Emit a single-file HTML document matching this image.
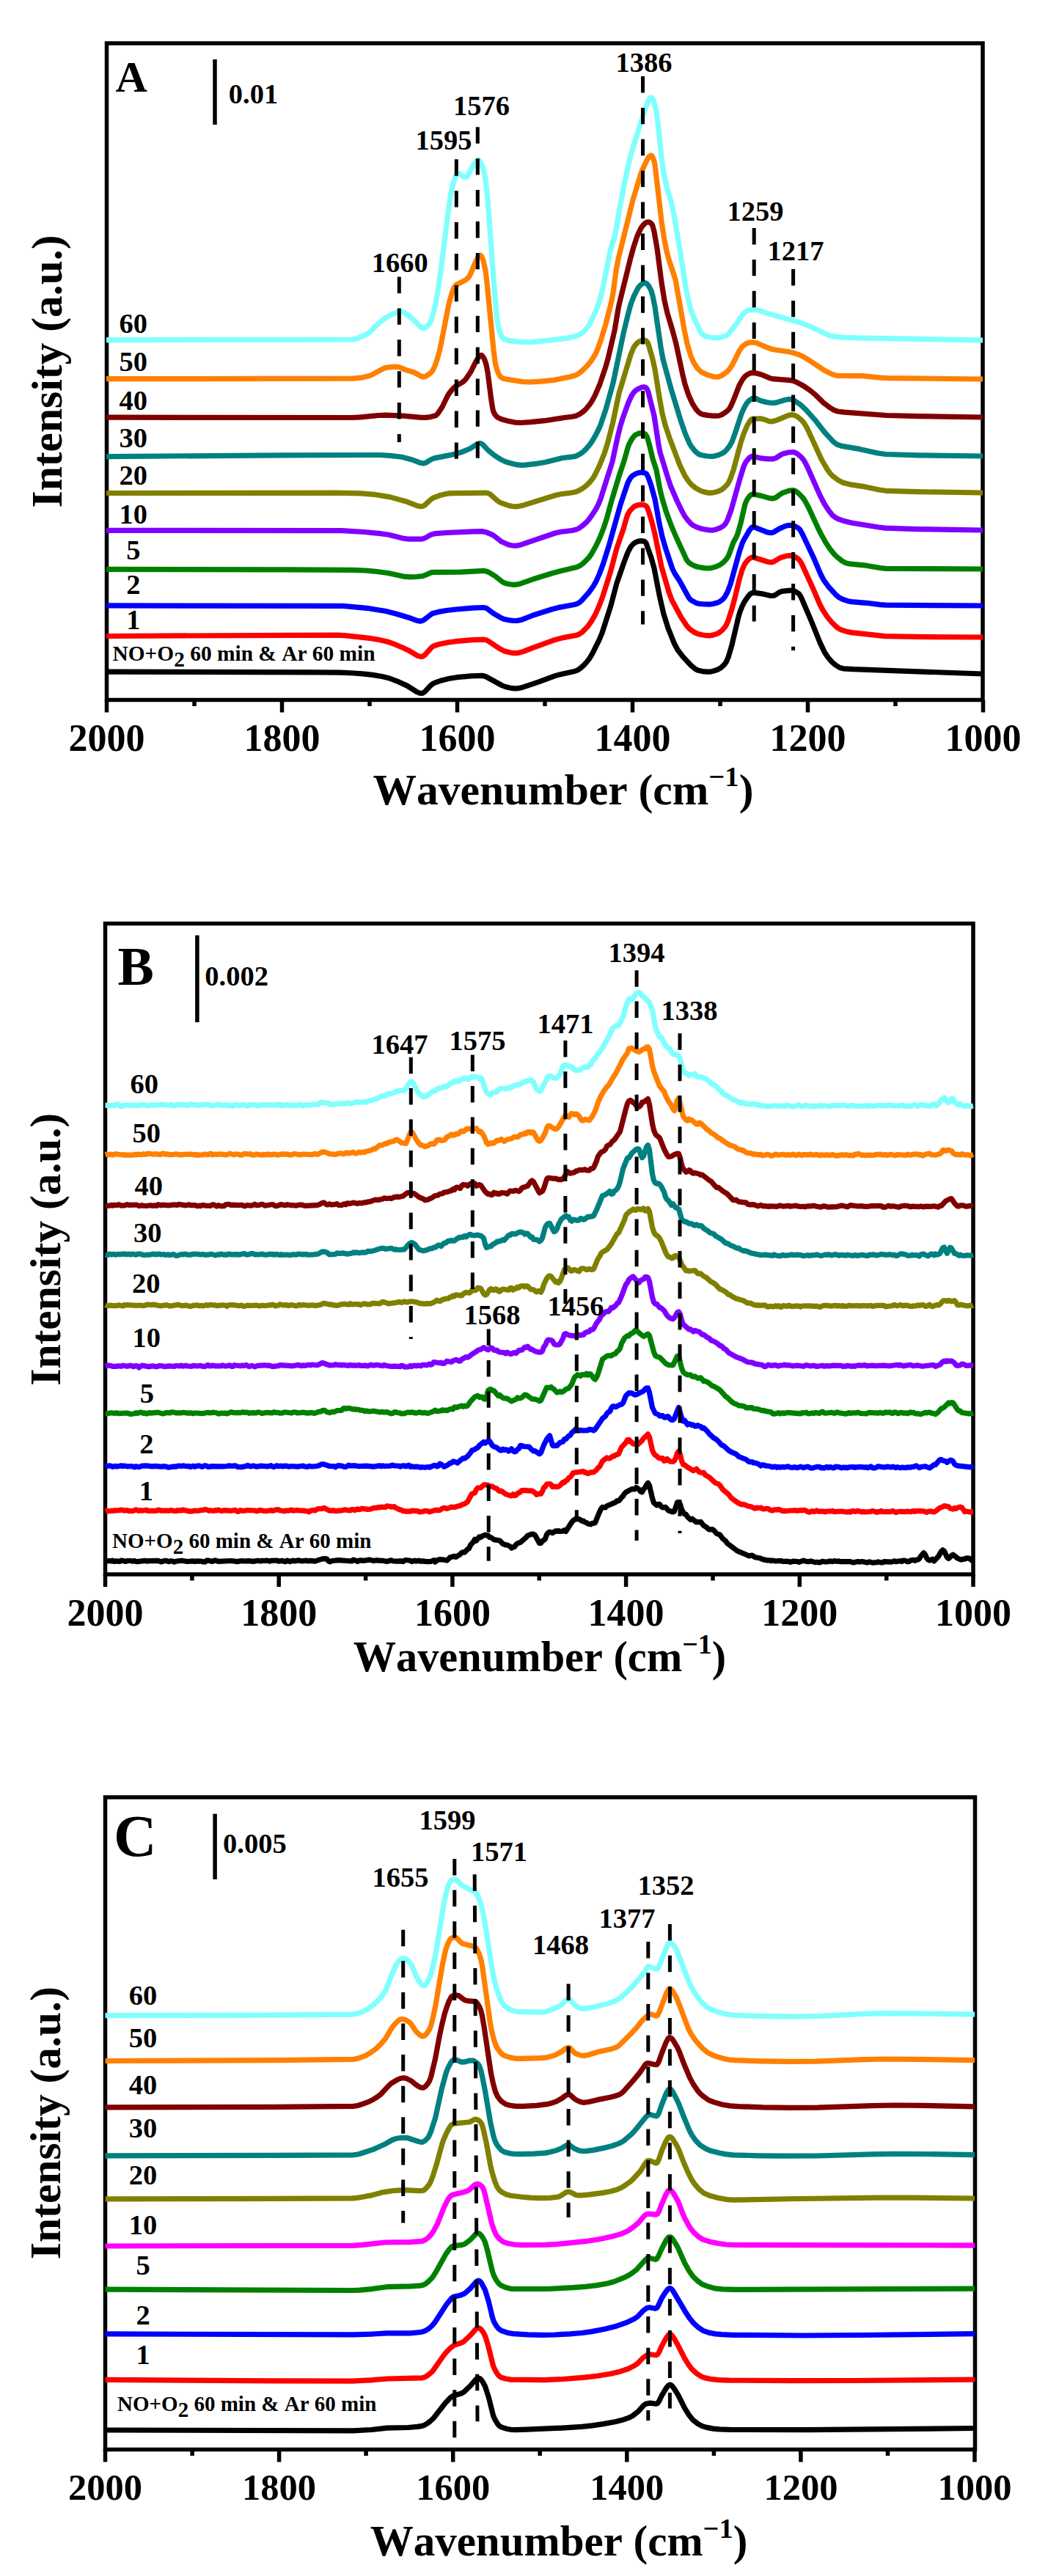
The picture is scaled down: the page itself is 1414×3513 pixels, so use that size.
<!DOCTYPE html>
<html><head><meta charset="utf-8"><style>
html,body{margin:0;padding:0;background:#fff;}
svg{display:block;}
</style></head><body>
<svg width="1414" height="3513" viewBox="0 0 1414 3513" style="font-family:'Liberation Serif',serif;font-weight:bold;font-kerning:none">
<rect width="1414" height="3513" fill="#fff"/>
<rect x="145.5" y="59" width="1194.5" height="895.5" fill="none" stroke="#000" stroke-width="5.5"/>
<line x1="145.5" y1="954.5" x2="145.5" y2="971.5" stroke="#000" stroke-width="5.5"/>
<text x="145.5" y="1024" text-anchor="middle" font-size="52">2000</text>
<line x1="265.0" y1="954.5" x2="265.0" y2="963.0" stroke="#000" stroke-width="5.5"/>
<line x1="384.5" y1="954.5" x2="384.5" y2="971.5" stroke="#000" stroke-width="5.5"/>
<text x="384.5" y="1024" text-anchor="middle" font-size="52">1800</text>
<line x1="504.0" y1="954.5" x2="504.0" y2="963.0" stroke="#000" stroke-width="5.5"/>
<line x1="623.5" y1="954.5" x2="623.5" y2="971.5" stroke="#000" stroke-width="5.5"/>
<text x="623.5" y="1024" text-anchor="middle" font-size="52">1600</text>
<line x1="743.0" y1="954.5" x2="743.0" y2="963.0" stroke="#000" stroke-width="5.5"/>
<line x1="862.5" y1="954.5" x2="862.5" y2="971.5" stroke="#000" stroke-width="5.5"/>
<text x="862.5" y="1024" text-anchor="middle" font-size="52">1400</text>
<line x1="982.0" y1="954.5" x2="982.0" y2="963.0" stroke="#000" stroke-width="5.5"/>
<line x1="1101.5" y1="954.5" x2="1101.5" y2="971.5" stroke="#000" stroke-width="5.5"/>
<text x="1101.5" y="1024" text-anchor="middle" font-size="52">1200</text>
<line x1="1221.0" y1="954.5" x2="1221.0" y2="963.0" stroke="#000" stroke-width="5.5"/>
<line x1="1340.5" y1="954.5" x2="1340.5" y2="971.5" stroke="#000" stroke-width="5.5"/>
<text x="1340.5" y="1024" text-anchor="middle" font-size="52">1000</text>
<text x="768" y="1096.5" font-size="59.5" text-anchor="middle">Wavenumber (cm<tspan dy="-24.4" font-size="38.7">&#8722;1</tspan><tspan dy="24.4">)</tspan></text>
<text transform="translate(84.4,506.5) rotate(-90)" font-size="59.5" text-anchor="middle">Intensity (a.u.)</text>
<path d="M145 916.1 428 916.8 464 917.1 483 918 497 919.1 508 920.4 522 922.8 531 925 541 928.8 555 935.1 568 943.4 571 944.8 574 945.5 576 945.3 579 943.6 587 935 590 932.5 595 930.3 603 927.7 613 925.3 623 923.7 643 921.8 657 921.4 660 921.9 663 923 684 934.5 689 936.5 696 938.2 701 938.9 706 938.8 711 937.8 734 930.1 757 921.6 764 919.7 781 916.1 786 914.6 789 913 792 910.8 796 907.2 800 902.9 804 897.6 808 890.8 817 872.7 821 863.2 833 825.7 841 795.2 851 766.5 856 753.4 860 745.8 863 742.2 865 740.6 868 739 871 738 874 737.6 879 738.4 881 740.6 888 760.6 892 775 899 811.4 905 837.7 911 856.7 919 876.7 924 886.2 931 895.4 942 907.3 948 912.2 952 914.3 958 915.6 964 916.2 968 916.2 973 915.1 979 913 983 910.6 987 907 990 903.2 993 896.4 998 879.4 1007 841 1009 834.2 1012 826.6 1015 820.8 1020 813.4 1023 810 1026 808.4 1029 808.4 1038 809.6 1050 812.3 1054 812.5 1057 811.5 1063 807.6 1066 806.4 1078 805.2 1082 805.7 1085 806.9 1089 809.5 1091 812.1 1093 816 1106 846.4 1118 876.1 1124 888.9 1129 896.5 1134 902.4 1139 906.8 1145 910.5 1150 911.8 1164 912.7 1340 919" fill="none" stroke="#000000" stroke-width="7.2" stroke-linejoin="round"/>
<path d="M145 867.5 396 866.3 460 866.2 470 866.6 504 870.3 517 872.5 528 875 537 878.1 548 882.7 557 886.9 569 894.1 574 895.6 576 895.3 579 893.5 589 882.4 592 880.7 598 878.8 609 876.4 621 874.7 644 872.7 660 872.2 662 872.5 665 873.8 682 884.9 688 888 695 889.8 700 890.6 704 890.7 709 889.9 714 888.4 726 883.6 757 872.4 768 869.6 786 866.2 789 865.3 794 861.9 801 854.8 806 847.9 811 839.4 816 828.6 821 815.8 832 781.4 841 747.6 850 721.5 854 707.2 856 701.5 859 696.4 864 691.3 868 689.2 874 688.1 878 688.5 881 689.9 883 693.2 885 698.7 889 712.2 893 728.5 902 773 912 807.3 916 818.2 929 842.3 936 852.8 939 856.3 942 859.1 947 862.4 951 864.2 957 865.8 963 866.7 968 866.8 972 866.1 978 864.1 981 862.5 985 859.3 989 854.5 991 850.8 993 845.8 998 830.3 1002 815.5 1008 790.3 1012 777 1015 770.1 1018 765.8 1021 762.6 1024 760.6 1026 760.1 1028 760.2 1047 766.3 1052 766.9 1055 766 1062 761.7 1065 760.3 1072 758.2 1077 757.6 1080 757.9 1084 759.4 1088 761.8 1091 764.9 1094 770.5 1109 803.4 1118 824.5 1122 832 1128 841.2 1134 848.5 1141 855.3 1144 857.4 1147 858.9 1154 861.2 1161 862.6 1207 867.7 1250 868.4 1340 869" fill="none" stroke="#FF0000" stroke-width="7.2" stroke-linejoin="round"/>
<path d="M145 825.9 468 826.4 500 829.3 525 833.3 539 836.7 559 842.8 568 846.2 573 847.1 575 846.8 578 845.4 589 837 592 835.9 598 834.4 609 832.5 622 831 644 829.1 659 828.5 662 829 664 829.9 673 836.6 682 841.9 687 844.2 693 845.6 700 846.5 705 846.4 709 845.7 714 844.2 727 839 753 830.7 762 828.4 782 824.7 787 823.4 790 821.7 793 819.1 803 807.8 809 799.5 813 792.4 817 783.4 822 770.3 830 745.2 846 688.2 856 658.5 859 652.8 861 650.2 863 648.3 868 645.6 871 644.7 874 644.3 879 644.9 881 645.9 882 647 884 651 888 662.5 893 680.7 899 713.8 903 732 908 749.2 917 776 920 782 927 792.8 939 814.7 941 817.2 943 818.9 949 822.2 953 823.3 961 824 967 824.2 972 823.6 978 822 981 820.7 985 817.8 988 814.6 992 807.2 996 796.7 1008 753.2 1012 741 1014 736.8 1022 722.9 1025 719.2 1027 718.7 1029 719.1 1045 725.4 1049 726.4 1052 726.6 1055 725.7 1063 720.9 1069 718.2 1073 716.8 1077 716.2 1081 716.7 1085 718.2 1089 720.5 1091 722.7 1094 728 1109 759.7 1119 783 1123 790.9 1130 800.5 1140 811.4 1144 814.7 1150 817.7 1156 819.7 1161 820.6 1182 822.3 1200 824.6 1208 825.2 1340 826" fill="none" stroke="#0000FF" stroke-width="7.2" stroke-linejoin="round"/>
<path d="M145 776.4 396 776.8 480 777.3 498 778 514 779.5 529 781.5 550 786.1 559 786.9 568 786.5 576 785.7 579 784.7 587 781.1 591 780.3 628 780.2 660 778.4 664 779.3 669 781.9 676 786.2 685 793.5 689 795.5 695 796.8 700 797.4 704 797.2 709 796.2 727 789.8 753 781.7 763 779 784 774.1 788 772.8 791 771.3 795 768.4 803 760.4 807 754.6 813 743.8 818 733 823 720.3 827 708.2 834 682.6 844 649.5 851 628.4 856 610.7 858 605.3 862 598.1 866 593.3 870 591.4 874 590.6 877 590.8 880 592.1 882 595.2 883 597.9 886 608.7 890 625.6 895 641.1 900 667.9 903 680.1 908 696.9 915 716.1 923 734.8 936 762.9 938 765.9 940 767.7 943 769.8 947 771.7 952 773.3 960 774.6 966 775 970 774.6 976 772.9 981 770.8 986 767.2 990 763.1 992 760.2 994 756.3 1000 739.7 1004 732.4 1006 727.5 1010 713.4 1016 687.4 1019 680.6 1023 675.5 1026 674.1 1029 674.3 1038 676.1 1049 679.4 1054 679.9 1058 678.5 1065 673.4 1068 671.8 1076 669.1 1081 668.5 1084 669.2 1088 671.9 1094 678 1097 682 1102 691.1 1115 719.3 1120 729.3 1126 740 1132 748.9 1137 755.2 1141 759.2 1148 764.9 1153 767.7 1160 769.2 1181 771.2 1200 774.5 1208 775.4 1340 776" fill="none" stroke="#008000" stroke-width="7.2" stroke-linejoin="round"/>
<path d="M145 723.3 466 723.7 497 725.5 519 727.7 530 729.3 550 734.2 555 734.9 560 735.1 574 735.1 577 734.7 580 733.5 588 728.9 593 727.7 609 726.5 645 724.9 657 724.6 663 725.8 671 729.1 674 731 684 738.8 693 742.7 697 743.8 701 744.3 706 743.9 711 742.7 757 727 765 725.3 780 723.5 786 722.1 790 720.1 794 717.2 799 712.8 803 708.3 809 699.9 813 693.5 816 687.7 819 680.2 835 629.6 842 596.7 846 580.5 850 567.9 857 548.6 861 540.1 865 534.1 868 531.7 871 530 875 528.3 878 527.7 880 528.2 882 530.1 884 534.9 892 567.1 898 606.8 900 616.8 911 652.7 915 664.3 923 682.7 930 697.3 934 704.4 938 709.6 942 714 945 716.4 950 718.9 955 720.7 960 721.8 967 722.9 972 723.1 976 722.2 982 719.9 986 717.5 989 714.6 992 709.1 997 695.6 1009 652.6 1014 636.4 1017 630 1022 624 1024 622.7 1027 622.1 1037 624.9 1047 625.8 1054 625.9 1058 624.6 1065 620.1 1068 618.7 1075 617 1081 616.5 1084 617.1 1088 619.4 1093 623.9 1096 627.5 1100 634.8 1118 675.4 1124 687 1130 696.3 1135 702.6 1139 705.7 1144 708.2 1151 710.6 1161 713 1198 719 1207 720.1 1251 721.6 1340 723" fill="none" stroke="#8000FF" stroke-width="7.2" stroke-linejoin="round"/>
<path d="M145 672.5 460 672.1 493 672.8 510 674.3 532 677.9 555 684.3 568 689.4 574 690.7 577 690.2 579 689 587 681.6 591 678.8 600 675.5 607 673.7 612 672.9 618 672.7 663 672.1 666 672.8 669 674.5 678 682.6 682 685.4 694 689.6 699 690.5 703 690.8 708 690.3 714 688.9 758 675.2 765 673.8 779 672 785 670.8 789 669.2 794 666.3 799 662.7 803 658.9 807 654.2 810 649.8 817 635.9 824 618.6 829 602.7 836 574.8 844 536.5 860 483.6 864 473.9 867 469.6 869 467.6 872 465.6 875 464.2 878 463.6 881 464.7 883 467.1 885 472.3 890 490 893 503.7 899 541.3 903 563.6 907 579.5 913 597.4 927 634.4 934 649.1 939 656.5 943 661.1 949 665.8 955 669.2 960 670.9 966 672.1 970 672.2 975 671.3 980 669.8 984 667.8 988 664.7 992 660.3 994 657 996 652.5 1000 641.3 1010 604 1014 591.6 1019 580 1022 575 1024 572.4 1025 571.6 1027 571 1037 570.9 1041 571.7 1049 574.6 1053 574.8 1057 573.8 1074 566.8 1077 565.9 1080 565.6 1083 566.1 1087 568.1 1093 573.1 1096 576.4 1099 581.2 1102 587 1120 626.2 1128 640.1 1132 645.7 1136 649.7 1143 654.9 1149 658 1160 660.9 1180 663.9 1199 668 1208 669.3 1252 670.7 1340 672" fill="none" stroke="#808000" stroke-width="7.2" stroke-linejoin="round"/>
<path d="M145 622.6 387 620.8 518 620.5 532 621.4 548 623.3 563 627.3 573 631.2 577 631.9 581 630.9 588 626.5 592 624.9 615 620.4 630 616.4 641 611.7 650 606 654 604.5 656 604.8 658 606 665 613.4 671 618.5 676 622.3 683 626.6 688 629.1 692 630.6 700 632.7 706 633.9 711 634.3 716 634.2 729 632.7 744 630.3 767 624.5 781 622.9 785 622.1 789 620.3 794 617.1 798 613.5 803 607.9 807 602.3 812 593.8 816 586 819 579.2 826 558.5 836 522.3 850 455 856 430.1 860 415.3 864 404.4 870 392.7 872 390.1 875 387.5 877 386.3 879 385.7 881 386.2 882 386.9 885 390.6 888 396.6 890 403.4 893 418.5 901 473.3 904 489.7 915 530.1 928 573 934 590.4 940 604.4 943 609.3 947 614.4 950 617.4 953 619.5 957 620.8 964 622 970 622.4 974 622.1 979 620.8 984 618.7 987 617 990 614.4 995 608 998 602.5 1002 591.8 1011 564.4 1015 555.4 1018 550.2 1021 546.7 1025 543.8 1028 542.9 1030 543.3 1036 546.1 1039 547 1046 548.7 1052 549.5 1055 549.5 1059 548.9 1070 545.5 1075 544.4 1079 544.6 1083 546.3 1092 552.3 1099 558.8 1111 572.3 1124 589 1136 602.2 1141 606 1147 608.1 1172 612.4 1197 618 1208 619.5 1252 620.8 1340 622" fill="none" stroke="#008080" stroke-width="7.2" stroke-linejoin="round"/>
<path d="M145 569.2 481 569.5 492 568.9 516 566.5 526 566.1 550 567.2 574 569.4 581 569.4 587 568.6 594 566.8 597 564.1 603 555 610 540.5 613 535.6 617 530.7 621 526.9 631 521 635 517.3 642 506.9 648 494.8 651 489.5 654 485.3 656 484.3 657 484.7 659 487 661 491.1 663 497.2 665 507.8 670 546.4 672 558.4 673 561.7 675 565.5 677 567.9 679 569.4 684 571.8 692 574 702 576.1 710 576.5 723 575.7 743 573.7 768 569.8 780 568.3 785 567.2 790 564.9 795 561.5 799 557.8 804 551.8 807 547.3 811 539.9 818 523.7 826 499.8 829 489.3 838 450.8 843 421.1 845 411.8 860 351.2 864 336.7 869 321.6 874 311 877 307 880 304.2 882 303 884 302.7 887 303.9 889 306 890 308.2 892 315.8 896 338.8 902 384.9 906 409.7 910 427.2 917 450.6 922 469.4 931 511.6 934 523.9 939 539.1 944 550.1 949 558 952 561.4 955 563.9 958 565.1 965 566.4 972 567.1 978 567.2 981 566.7 984 565.6 990 561.8 994 558.1 996 554.9 1000 546 1008 525.6 1013 516.7 1016 513.1 1020 510.3 1024 508.6 1027 508.4 1031 508.9 1038 510.7 1049 515.4 1053 516.6 1078 518.7 1082 519.5 1086 521.1 1096 526.5 1105 532.8 1111 537.7 1123 549.4 1130 554.7 1137 559.2 1142 561 1151 562.1 1209 566.5 1253 567.6 1340 569" fill="none" stroke="#800000" stroke-width="7.2" stroke-linejoin="round"/>
<path d="M145 516.7 482 516.2 492 515.2 503 512.8 508 510.7 524 502 530 500.8 539 500.1 544 500.7 554 504.6 565 508 575 513.5 577 513.9 580 513.4 585 510.4 588 507.7 590 505.2 593 499 596 490.3 599 479.8 601 470.9 612 414.6 616 400.4 619 392.6 620 390.8 622 388.5 633 382.9 636 380.9 639 378.1 642 372.9 646 362.8 651 351.8 653 348.8 654 348.1 655 348.1 656 348.8 657 350.4 659 355.8 662 369.1 664 385.6 673 477.1 675 493.1 676 498.3 678 505.3 680 510.2 682 513.5 685 515.7 691 517.3 713 520.6 723 521 737 520.2 755 518.4 778 513.8 785 511.7 789 509.5 794 505.4 801 498.5 806 492.4 812 482.6 815 475.7 819 464.8 826 442 834 410.2 836 399.4 840 369.6 843 353.3 863 272.5 873 239.7 876 231.2 883 216.5 885 213.6 887 212.1 888 212.1 889 212.9 890 214.4 892 220.1 893 224.6 902 301.7 906 327.8 909 342.3 912 353.8 921 381.4 933 449.7 937 468.8 942 485.6 946 494.8 951 502.2 954 505.3 957 507.7 964 511.1 974 514 979 514.1 984 512.2 991 507.3 995 502.9 999 496.7 1008 478.6 1012 472.8 1015 470.3 1019 467.9 1022 467.1 1027 466.8 1031 467.5 1046 473.9 1052 476 1058 477.2 1076 479.8 1083 481.6 1090 483.9 1095 486.3 1102 490.4 1124 505 1134 510.1 1140 512.1 1144 512.4 1176 512.6 1201 515.1 1210 515.6 1340 517" fill="none" stroke="#FF8000" stroke-width="7.2" stroke-linejoin="round"/>
<path d="M145 463.6 481 463 487 461.4 495 458.2 500 455.7 505 452.3 515 442.1 525 433.9 534 429 542 425.9 546 425 549 425.3 553 427.4 563 435.4 574 446.3 577 447.8 579 447.5 581 446.3 584 443.2 586 440.5 588 436.5 591 426.7 594 413.7 597 397 601 369.8 612 282.2 615 263.1 618 249.6 621 241.3 623 237.8 624 236.9 625 236.6 627 237.2 632 240.8 634 241.7 636 241.4 637 240.5 639 237.4 643 229.3 646 224.5 650 219.3 652 218.2 653 218.4 655 220.6 658 227.7 661 239.3 663 252.4 665 272 673 380.2 677 427.6 678 436.4 680 448 682 454.8 684 459.3 685 460.8 687 462.4 694 464.6 708 466.1 722 466.6 735 465.7 769 461.8 781 459.6 789 456.9 793 454.7 796 452.2 800 447.7 804 442.1 813 422.6 818 408.9 822 393.1 832 342.1 838 322.1 840 313.7 844 289.1 852 247 858 219.5 864 198.3 878 153.6 884 137.2 886 133.8 887 133.1 888 133 890 135.1 892 139.7 895 151.8 897 167.2 902 214.4 905 236 909 254.6 915 274.8 918 287.7 927 340 935 391.1 938 406.9 942 422.2 946 433.2 955 452.2 957 455.1 959 456.9 962 458.5 965 459.5 975 461 982 460.3 990 457.6 992 456.5 994 454.5 1006 438.9 1012 429.8 1015 426.6 1018 424.3 1020 423.3 1024 422.7 1030 422.5 1035 423.3 1046 427.1 1090 439.7 1104 445 1131 457.4 1138 459.3 1150 460.2 1170 460.8 1340 464" fill="none" stroke="#80FFFF" stroke-width="7.2" stroke-linejoin="round"/>
<text x="157.5" y="124.5" font-size="60" text-anchor="start">A</text>
<line x1="293" y1="81" x2="293" y2="170" stroke="#000" stroke-width="5.5"/>
<text x="311.8" y="141" font-size="38.5" text-anchor="start">0.01</text>
<line x1="544.3" y1="377.5" x2="544.3" y2="603" stroke="#000" stroke-width="5" stroke-dasharray="22.4 20.5"/>
<line x1="622.3" y1="217.3" x2="622.3" y2="626" stroke="#000" stroke-width="5" stroke-dasharray="22.4 20.5"/>
<line x1="651.3" y1="173.3" x2="651.3" y2="626" stroke="#000" stroke-width="5" stroke-dasharray="22.4 20.5"/>
<line x1="876.5" y1="104" x2="876.5" y2="851.5" stroke="#000" stroke-width="5" stroke-dasharray="22.4 20.5"/>
<line x1="1028.2" y1="311" x2="1028.2" y2="847.6" stroke="#000" stroke-width="5" stroke-dasharray="22.4 20.5"/>
<line x1="1081.6" y1="367" x2="1081.6" y2="887" stroke="#000" stroke-width="5" stroke-dasharray="22.4 20.5"/>
<text x="545.3" y="370.5" font-size="38.5" text-anchor="middle">1660</text>
<text x="605" y="204" font-size="38.5" text-anchor="middle">1595</text>
<text x="656.5" y="156.5" font-size="38.5" text-anchor="middle">1576</text>
<text x="878" y="97.5" font-size="38.5" text-anchor="middle">1386</text>
<text x="1030" y="301" font-size="38.5" text-anchor="middle">1259</text>
<text x="1085" y="354.5" font-size="38.5" text-anchor="middle">1217</text>
<text x="181.8" y="453.8" font-size="38.5" text-anchor="middle">60</text>
<text x="181.8" y="505.9" font-size="38.5" text-anchor="middle">50</text>
<text x="181.8" y="558.7" font-size="38.5" text-anchor="middle">40</text>
<text x="181.8" y="609.5" font-size="38.5" text-anchor="middle">30</text>
<text x="181.8" y="661" font-size="38.5" text-anchor="middle">20</text>
<text x="181.8" y="714.4" font-size="38.5" text-anchor="middle">10</text>
<text x="181.8" y="762.6" font-size="38.5" text-anchor="middle">5</text>
<text x="181.8" y="809.5" font-size="38.5" text-anchor="middle">2</text>
<text x="181.8" y="857.7" font-size="38.5" text-anchor="middle">1</text>
<text x="153.5" y="900.9" font-size="29.4" text-anchor="start">NO+O<tspan dy="8">2</tspan><tspan dy="-8"> 60 min &amp; Ar 60 min</tspan></text>
<rect x="143.5" y="1259.5" width="1183.5" height="887.5" fill="none" stroke="#000" stroke-width="5.5"/>
<line x1="143.5" y1="2147" x2="143.5" y2="2164" stroke="#000" stroke-width="5.5"/>
<text x="143.5" y="2217" text-anchor="middle" font-size="52">2000</text>
<line x1="261.9" y1="2147" x2="261.9" y2="2155.5" stroke="#000" stroke-width="5.5"/>
<line x1="380.2" y1="2147" x2="380.2" y2="2164" stroke="#000" stroke-width="5.5"/>
<text x="380.2" y="2217" text-anchor="middle" font-size="52">1800</text>
<line x1="498.6" y1="2147" x2="498.6" y2="2155.5" stroke="#000" stroke-width="5.5"/>
<line x1="616.9" y1="2147" x2="616.9" y2="2164" stroke="#000" stroke-width="5.5"/>
<text x="616.9" y="2217" text-anchor="middle" font-size="52">1600</text>
<line x1="735.2" y1="2147" x2="735.2" y2="2155.5" stroke="#000" stroke-width="5.5"/>
<line x1="853.6" y1="2147" x2="853.6" y2="2164" stroke="#000" stroke-width="5.5"/>
<text x="853.6" y="2217" text-anchor="middle" font-size="52">1400</text>
<line x1="972.0" y1="2147" x2="972.0" y2="2155.5" stroke="#000" stroke-width="5.5"/>
<line x1="1090.3" y1="2147" x2="1090.3" y2="2164" stroke="#000" stroke-width="5.5"/>
<text x="1090.3" y="2217" text-anchor="middle" font-size="52">1200</text>
<line x1="1208.7" y1="2147" x2="1208.7" y2="2155.5" stroke="#000" stroke-width="5.5"/>
<line x1="1327.0" y1="2147" x2="1327.0" y2="2164" stroke="#000" stroke-width="5.5"/>
<text x="1327.0" y="2217" text-anchor="middle" font-size="52">1000</text>
<text x="736" y="2279" font-size="58.3" text-anchor="middle">Wavenumber (cm<tspan dy="-23.9" font-size="37.9">&#8722;1</tspan><tspan dy="23.9">)</tspan></text>
<text transform="translate(82.1,1703.8) rotate(-90)" font-size="59.5" text-anchor="middle">Intensity (a.u.)</text>
<path d="M143.5 2130 145.5 2128.8 149.5 2128.5 151.5 2129 153.5 2128.1 155.5 2129.5 157.5 2128.8 163.5 2129.4 165.5 2128 171.5 2129.4 173.5 2128.5 177.5 2128.5 181.5 2129.1 183.5 2128.6 185.5 2129.5 187.5 2129.6 197.5 2128.4 201.5 2129.1 203.5 2128.6 215.5 2128.4 219.5 2129.9 225.5 2128.3 227.5 2128.6 229.5 2129.7 233.5 2128.6 237.5 2130.1 239.5 2129.3 247.5 2128.2 255.5 2129.5 263.5 2128.8 265.5 2129.5 269.5 2128.9 273.5 2129.1 277.5 2130.1 279.5 2130 281.5 2128.2 283.5 2127.9 289.5 2129.4 293.5 2127.8 297.5 2129.3 315.5 2128.5 323.5 2129.6 329.5 2128.5 331.5 2129 339.5 2128.6 345.5 2129.4 351.5 2128.3 355.5 2129 357.5 2128.3 361.5 2128.5 363.5 2128.1 367.5 2129.1 369.5 2128.4 377.5 2128 379.5 2129.1 385.5 2128.4 387.5 2129.5 389.5 2129.6 391.5 2128.1 395.5 2129.7 399.5 2128.2 401.5 2128.9 407.5 2127.9 411.5 2129 417.5 2128.1 419.5 2128.8 423.5 2128.4 429.5 2129.1 439.5 2125.9 443.5 2125.7 445.5 2125.8 447.5 2128.5 449.5 2129.8 453.5 2128.5 461.5 2127.7 479.5 2129 481.5 2127.2 483.5 2127.5 487.5 2129.4 489.5 2128.1 493.5 2127.9 495.5 2128.5 503.5 2127.1 509.5 2128.6 513.5 2127.7 515.5 2128.2 521.5 2128.3 527.5 2129.5 533.5 2127.8 535.5 2128.7 539.5 2129.2 547.5 2128.8 549.5 2129.6 551.5 2128.1 553.5 2127.5 559.5 2128.3 561.5 2129.6 565.5 2128.2 567.5 2129.1 571.5 2128.2 573.5 2129.2 577.5 2128.8 579.5 2129.5 583.5 2129.7 587.5 2129.5 591.5 2127.7 593.5 2130.1 595.5 2128 599.5 2126.7 605.5 2127.2 609.5 2128.1 613.5 2124 619.5 2122.2 621.5 2123.4 627.5 2119.7 629.5 2117.4 631.5 2116.8 633.5 2117.1 637.5 2112.8 639.5 2111.8 641.5 2107.2 645.5 2102.6 647.5 2099.2 649.5 2101.1 653.5 2095.9 655.5 2096.6 657.5 2094.8 661.5 2093.2 663.5 2093.9 665.5 2093.9 667.5 2096.4 669.5 2096.7 673.5 2099.6 681.5 2101 685.5 2105.3 689.5 2106.9 691.5 2106.9 695.5 2108.9 697.5 2111 699.5 2109.9 701.5 2109.6 703.5 2106.5 705.5 2104.9 709.5 2103.4 717.5 2096.5 719.5 2094.1 725.5 2092 727.5 2092.2 729.5 2093.5 735.5 2104.4 737.5 2104.4 739.5 2101.5 741.5 2100.5 743.5 2098.5 745.5 2092.7 747.5 2090.1 749.5 2089.1 753.5 2090.6 757.5 2087.8 759.5 2088.3 761.5 2087.6 763.5 2088.5 767.5 2088 769.5 2086.6 771.5 2088.5 779.5 2076 781.5 2073.6 785.5 2071.1 787.5 2071.7 789.5 2071.6 793.5 2074.3 795.5 2074 797.5 2076 799.5 2076.3 801.5 2077.9 805.5 2078.8 807.5 2077.3 809.5 2077.5 811.5 2076.7 817.5 2061.9 819.5 2057.8 821.5 2055.4 825.5 2056 827.5 2053.7 839.5 2048.6 841.5 2046.5 843.5 2046.8 845.5 2045.1 847.5 2042.1 849.5 2040.3 851.5 2036.9 853.5 2035 861.5 2030.7 865.5 2030.9 867.5 2028.6 871.5 2031.2 873.5 2034.1 875.5 2034.8 877.5 2030.8 879.5 2028.9 881.5 2024.9 883.5 2022.4 885.5 2025.9 889.5 2043.1 891.5 2049.3 895.5 2052.9 897.5 2051.4 899.5 2051.4 901.5 2054.5 903.5 2055.9 907.5 2055.3 911.5 2060 917.5 2062 919.5 2061.2 923.5 2048.8 925.5 2048.5 927.5 2051.5 929.5 2058.4 931.5 2062.1 933.5 2065 935.5 2065.3 937.5 2068.7 941.5 2072.5 943.5 2071.1 949.5 2075.8 951.5 2075.4 953.5 2076 955.5 2075.4 959.5 2080.5 963.5 2082.8 965.5 2084.9 967.5 2086 971.5 2085.7 973.5 2087.1 977.5 2091.6 981.5 2092.9 985.5 2098.4 989.5 2101.5 991.5 2104.7 1005.5 2115.1 1021.5 2121.9 1025.5 2121.1 1029.5 2123.8 1035.5 2124.7 1041.5 2127.1 1043.5 2127 1045.5 2127.9 1049.5 2127.8 1051.5 2128.6 1053.5 2128.1 1057.5 2129 1061.5 2128.5 1065.5 2128.6 1067.5 2129.5 1073.5 2129.1 1077.5 2130.3 1081.5 2129.2 1087.5 2129.5 1089.5 2130.3 1095.5 2128.2 1099.5 2129.4 1103.5 2129.6 1105.5 2128.9 1111.5 2130.6 1113.5 2130.3 1117.5 2130.9 1121.5 2129.3 1125.5 2130 1129.5 2129.7 1131.5 2128.9 1135.5 2129.7 1137.5 2128.6 1141.5 2129.5 1143.5 2128.9 1145.5 2129.6 1159.5 2129.7 1163.5 2130.9 1169.5 2129.5 1171.5 2130.1 1175.5 2129.5 1181.5 2130.8 1183.5 2130.8 1185.5 2129.9 1189.5 2131.1 1195.5 2130.7 1197.5 2129.9 1201.5 2131 1203.5 2130.9 1205.5 2129.7 1215.5 2130.1 1219.5 2128.8 1221.5 2129.6 1227.5 2128.7 1229.5 2129.5 1231.5 2128.1 1233.5 2128 1237.5 2129.8 1239.5 2129.5 1241.5 2128 1245.5 2127.4 1247.5 2128.4 1249.5 2127.1 1251.5 2127.1 1253.5 2125.6 1255.5 2122.3 1259.5 2117.7 1261.5 2119.9 1263.5 2124.5 1265.5 2127.1 1267.5 2128.1 1271.5 2126.2 1273.5 2128.9 1279.5 2122.6 1283.5 2115.6 1285.5 2113.8 1287.5 2115.3 1291.5 2124.1 1293.5 2125.4 1297.5 2121.4 1299.5 2120.1 1305.5 2124.9 1309.5 2126.8 1311.5 2127 1313.5 2126 1315.5 2126.2 1317.5 2124.9 1321.5 2125.1 1327 2129.3" fill="none" stroke="#000000" stroke-width="7.2" stroke-linejoin="round"/>
<path d="M143.5 2061.1 145.5 2060.4 147.5 2060.9 153.5 2060.1 155.5 2060.5 157.5 2059.7 159.5 2060 165.5 2059.1 169.5 2060.1 173.5 2059.5 175.5 2060.6 179.5 2060.7 181.5 2060.5 185.5 2058.8 189.5 2060.4 191.5 2059.7 193.5 2060.2 199.5 2059.2 201.5 2060.4 209.5 2060.4 213.5 2060.2 215.5 2059.2 217.5 2059.3 219.5 2060.2 231.5 2060.1 233.5 2059.5 237.5 2060.6 239.5 2060.6 241.5 2059.7 243.5 2060.2 245.5 2059.7 247.5 2060 249.5 2058.9 257.5 2060.9 261.5 2061.1 265.5 2060 269.5 2060.5 275.5 2059.3 277.5 2059.4 279.5 2058.4 285.5 2060.2 287.5 2059.8 291.5 2060.5 293.5 2059.7 295.5 2059.8 297.5 2059 301.5 2060.3 303.5 2060.4 305.5 2059.7 315.5 2060.3 319.5 2059.4 321.5 2059.6 323.5 2061.4 325.5 2061.2 327.5 2059.6 331.5 2060.5 337.5 2059.5 347.5 2060 349.5 2060.7 351.5 2060.6 353.5 2059.5 355.5 2059.5 359.5 2060.5 363.5 2060.7 369.5 2059.5 371.5 2060.5 375.5 2059.1 379.5 2058.7 381.5 2059.7 387.5 2060.8 389.5 2060.1 393.5 2060.2 397.5 2059 399.5 2060.2 405.5 2059.4 407.5 2060 413.5 2060.1 419.5 2061 421.5 2061.8 423.5 2060.1 427.5 2059.5 429.5 2060 433.5 2057.6 439.5 2057.5 441.5 2056.3 449.5 2060.2 455.5 2059.8 457.5 2060.7 465.5 2059.9 469.5 2058.9 477.5 2059.9 479.5 2058.6 481.5 2058.5 483.5 2059.7 487.5 2057.8 489.5 2058.6 491.5 2058.3 493.5 2057.2 501.5 2058.4 505.5 2058 509.5 2056.4 513.5 2056.4 515.5 2055.4 517.5 2055.9 519.5 2055.2 525.5 2055.5 527.5 2053.9 535.5 2055.1 537.5 2054.6 539.5 2056.2 545.5 2059.1 547.5 2059.1 549.5 2060.5 553.5 2061.1 559.5 2061.2 561.5 2060.2 569.5 2060.7 571.5 2061.8 575.5 2061.7 579.5 2060.3 583.5 2060.8 585.5 2061.9 593.5 2059.3 599.5 2059.6 603.5 2057 605.5 2056.3 609.5 2057.5 615.5 2055.1 619.5 2055.5 625.5 2053.7 627.5 2053.7 629.5 2052.1 633.5 2050.9 637.5 2048 643.5 2037.1 647.5 2035.8 649.5 2031.3 651.5 2029.2 655.5 2028.8 659.5 2025.1 661.5 2024.7 665.5 2025.4 667.5 2027.1 671.5 2027.2 673.5 2028.6 677.5 2030.1 679.5 2032.5 681.5 2033.7 683.5 2033.1 689.5 2037.7 695.5 2039.7 697.5 2039.9 699.5 2037.8 701.5 2039.7 703.5 2039 705.5 2036.8 709.5 2034.7 711.5 2032.6 717.5 2032.4 719.5 2032.9 725.5 2033.1 729.5 2035.8 731.5 2038.4 735.5 2036.8 737.5 2037.3 739.5 2034.1 741.5 2028.7 743.5 2027.5 745.5 2024 749.5 2023.5 751.5 2024.7 753.5 2027.7 755.5 2027.1 759.5 2027.8 761.5 2027.3 763.5 2025.9 767.5 2021.5 769.5 2021.9 771.5 2019.2 773.5 2018.7 775.5 2015.4 777.5 2014.3 779.5 2012 781.5 2008.5 795.5 2006.6 797.5 2008.3 799.5 2008 801.5 2009.6 803.5 2009.1 805.5 2007.7 807.5 2008 809.5 2007.6 813.5 2004.5 815.5 2001.6 817.5 2000.3 821.5 1992.6 827.5 1987.8 829.5 1989 831.5 1988.8 835.5 1985.8 837.5 1985.8 839.5 1984.1 841.5 1983.8 843.5 1982.8 847.5 1973.6 853.5 1967.2 855.5 1963.5 857.5 1963.4 863.5 1969.2 865.5 1969 869.5 1970 875.5 1964.5 877.5 1961.7 883.5 1955.9 885.5 1959.7 889.5 1977.7 891.5 1982 893.5 1984.6 895.5 1985.6 897.5 1987.7 899.5 1988.8 903.5 1988.6 905.5 1992.3 907.5 1991.8 909.5 1989.5 913.5 1993 917.5 1993.4 919.5 1992.1 921.5 1988.1 923.5 1981.7 925.5 1979.1 927.5 1983.9 929.5 1992.1 931.5 1997.2 933.5 1997.8 937.5 2000.9 945.5 2005.7 949.5 2003.3 953.5 2007.5 957.5 2008.6 959.5 2008.2 961.5 2011.4 967.5 2014.9 975.5 2022.4 979.5 2023.7 981.5 2025.4 985.5 2031.2 993.5 2038.1 997.5 2043.2 1005.5 2049 1011.5 2051.9 1013.5 2051.5 1015.5 2052 1021.5 2054.5 1023.5 2054.5 1029.5 2057.1 1031.5 2056.2 1035.5 2056.5 1037.5 2056 1039.5 2057.5 1041.5 2058 1045.5 2057.3 1047.5 2057.6 1051.5 2059.9 1053.5 2060 1055.5 2058.9 1059.5 2058.9 1061.5 2058.4 1067.5 2060.7 1069.5 2060.4 1071.5 2060.8 1077.5 2060 1085.5 2059.9 1087.5 2060.3 1091.5 2059.5 1093.5 2059.9 1097.5 2059.3 1101.5 2061.8 1103.5 2062.3 1107.5 2060.6 1109.5 2061.4 1111.5 2061.2 1113.5 2060 1115.5 2061.1 1123.5 2061.2 1125.5 2061.8 1127.5 2061 1133.5 2061 1135.5 2060.4 1137.5 2061.7 1147.5 2061 1153.5 2062 1157.5 2061.6 1159.5 2062.2 1161.5 2060.8 1163.5 2060.5 1165.5 2061.4 1169.5 2060.4 1175.5 2061.9 1177.5 2061.4 1179.5 2062 1187.5 2061.4 1189.5 2060.4 1195.5 2062.3 1197.5 2061.5 1199.5 2061.7 1201.5 2060.4 1203.5 2061.6 1205.5 2061.7 1213.5 2061.7 1217.5 2060.5 1221.5 2062.6 1223.5 2061.8 1227.5 2061.3 1235.5 2061.7 1237.5 2061 1241.5 2061.7 1245.5 2060.5 1247.5 2061.3 1249.5 2060.6 1253.5 2060.6 1259.5 2060.9 1263.5 2062.5 1265.5 2061.3 1269.5 2060.9 1273.5 2061.9 1275.5 2061 1281.5 2056.3 1285.5 2054.9 1287.5 2053.6 1293.5 2054.7 1295.5 2057 1299.5 2058.1 1301.5 2056.5 1303.5 2057.3 1305.5 2056.1 1309.5 2055 1311.5 2055.8 1315.5 2061.6 1317.5 2061 1323.5 2062.1 1327 2061.7" fill="none" stroke="#FF0000" stroke-width="7.2" stroke-linejoin="round"/>
<path d="M143.5 1999.8 149.5 1998.9 151.5 1999.2 153.5 2000.4 157.5 1999.3 159.5 2000.1 165.5 1998.7 167.5 1999.6 169.5 1999 173.5 1999.8 179.5 1999.5 183.5 2000.8 185.5 1999.6 189.5 2000.7 193.5 1999.2 199.5 1998.9 207.5 1999.9 211.5 1999.4 219.5 2000.2 223.5 1999.6 227.5 2000.2 229.5 2001.2 237.5 1999.9 239.5 2000.2 243.5 1999 247.5 1999.5 249.5 1998.8 255.5 1999.7 257.5 1999.4 259.5 2000.5 263.5 1999.2 265.5 2000.2 269.5 1999 271.5 1998.9 275.5 2000.3 279.5 1998.7 281.5 1999 283.5 2000.4 285.5 2000.5 287.5 1999.6 303.5 1999.9 309.5 1999.5 311.5 1998.9 317.5 1999.4 319.5 1998.8 321.5 1998.9 323.5 2000.4 329.5 2000.6 335.5 1999.5 337.5 1998.4 341.5 1999.8 345.5 1998.9 349.5 2000.2 355.5 1999.1 365.5 1999.8 369.5 1998.6 371.5 2000 373.5 2000.5 377.5 1998.7 379.5 1999.6 383.5 1999.1 385.5 1999.8 387.5 1999 389.5 1999.5 391.5 1999.1 393.5 2000.2 397.5 1999.5 405.5 2000.1 413.5 1999 415.5 2000 419.5 2000.3 421.5 1999.4 425.5 2000 431.5 1999.5 435.5 1998.5 437.5 1997.1 439.5 1996.8 441.5 1996.8 449.5 1999.5 455.5 1999.7 457.5 2000.8 459.5 1999.2 461.5 1998.6 465.5 1999 469.5 2000.4 471.5 2000.5 475.5 1998.1 477.5 1999 483.5 1998.7 489.5 1999.6 499.5 1999.2 509.5 2000.1 517.5 1998.7 519.5 1999.7 521.5 1998.8 523.5 1999.4 531.5 1999.2 535.5 1998 537.5 1999 543.5 1999 545.5 2000.1 547.5 1999.2 551.5 1998.8 553.5 1999.8 557.5 1998.2 559.5 2000.3 561.5 1999.5 563.5 2000.3 569.5 2000.2 573.5 2001.2 575.5 2000.7 579.5 2001.2 583.5 2000.5 585.5 2001.1 591.5 1998.6 593.5 1998.4 595.5 1999.8 597.5 1999.2 599.5 1996.1 601.5 1996.9 605.5 2000.2 611.5 1997.2 613.5 1995.3 615.5 1995.2 617.5 1993.2 619.5 1993.1 623.5 1995.1 631.5 1988.5 633.5 1989 637.5 1986.1 641.5 1981.3 643.5 1978 647.5 1976.6 649.5 1975 651.5 1974.3 653.5 1971.4 659.5 1966.5 661.5 1968.1 665.5 1965 667.5 1965.3 671.5 1971.5 673.5 1972.8 677.5 1974.2 681.5 1977.6 683.5 1978 685.5 1976.2 687.5 1977.4 689.5 1976.9 691.5 1977.3 693.5 1979 697.5 1975.8 699.5 1978.8 701.5 1979.8 703.5 1979.3 705.5 1976.5 707.5 1975.6 709.5 1971.4 711.5 1971.4 713.5 1972.5 721.5 1973.1 723.5 1975.6 727.5 1979 729.5 1978.7 735.5 1982.8 737.5 1981.3 741.5 1970.7 745.5 1962.8 749.5 1957.8 753.5 1971.2 755.5 1971.8 757.5 1971.3 759.5 1971.6 763.5 1967.3 767.5 1966.3 769.5 1962.7 771.5 1962.7 775.5 1958.2 777.5 1957.6 779.5 1953.9 781.5 1952.6 785.5 1948.4 789.5 1951.1 791.5 1950.4 793.5 1950.8 801.5 1950.6 803.5 1949.1 805.5 1950 807.5 1949.6 809.5 1950.8 811.5 1949.3 821.5 1934.4 825.5 1931.3 827.5 1927.7 829.5 1925.7 831.5 1925 833.5 1920.3 835.5 1917.9 837.5 1917.8 839.5 1918.8 845.5 1915.6 847.5 1915.3 849.5 1913.3 853.5 1903.4 857.5 1899.6 861.5 1899.8 865.5 1902.2 867.5 1901.9 877.5 1897 879.5 1894.5 881.5 1893 883.5 1892.9 885.5 1899 889.5 1919.5 893.5 1927.5 897.5 1929 899.5 1931.1 903.5 1930.6 905.5 1932.9 907.5 1933.2 909.5 1931.6 911.5 1932 913.5 1934.9 915.5 1936.5 917.5 1936.4 919.5 1934.4 925.5 1919.4 929.5 1933.8 931.5 1938.1 933.5 1937 937.5 1943 939.5 1941.7 941.5 1942.2 943.5 1943.7 945.5 1943.2 947.5 1945 949.5 1944.8 951.5 1943.6 953.5 1945 955.5 1945.3 957.5 1947.8 959.5 1947.2 963.5 1950.9 967.5 1955.8 973.5 1961.2 975.5 1962.1 979.5 1965.5 983.5 1970.2 987.5 1972.3 993.5 1977.9 997.5 1980.4 1003.5 1982.8 1007.5 1986.5 1017.5 1990.5 1021.5 1993.7 1025.5 1993.5 1027.5 1995 1029.5 1995 1033.5 1996.1 1037.5 1999 1039.5 1997.7 1041.5 1997.8 1043.5 1998.8 1049.5 1999.5 1053.5 2000.9 1055.5 2000.1 1057.5 2000.2 1059.5 2001.4 1061.5 2000.4 1063.5 2001.1 1067.5 2000.4 1069.5 2000.9 1073.5 1999.9 1075.5 2000.1 1077.5 2001.1 1081.5 2001.3 1083.5 2000.7 1087.5 2001.7 1091.5 2000.2 1095.5 2001.6 1101.5 2000 1105.5 2002.1 1107.5 2002.1 1113.5 2000.4 1117.5 2000.3 1119.5 2001.9 1121.5 2001.5 1123.5 2002.2 1127.5 2000.3 1129.5 2001.6 1131.5 2000.7 1133.5 2000.8 1135.5 2002 1137.5 2001.7 1139.5 2000.1 1143.5 2000.5 1147.5 2001.9 1149.5 2001.1 1151.5 2001.6 1153.5 2001 1155.5 2001.9 1157.5 2000.8 1163.5 2000.5 1165.5 2001.5 1167.5 2000.7 1169.5 2001 1171.5 2000.4 1179.5 2001.1 1181.5 2000.7 1183.5 2001.7 1187.5 1999.8 1189.5 2001.8 1193.5 2001.9 1197.5 1999.7 1203.5 2000.8 1207.5 2000.8 1209.5 2000.1 1215.5 2001 1217.5 2000.1 1221.5 2001.6 1223.5 2000.6 1227.5 2001.7 1229.5 2001.2 1235.5 2001.7 1237.5 2000.8 1241.5 2001.2 1243.5 2000.3 1245.5 2000.4 1249.5 1998.8 1253.5 2001.7 1255.5 2000.5 1261.5 1999.7 1267.5 2002 1273.5 1997.6 1275.5 1997.7 1281.5 1990.7 1283.5 1990.3 1285.5 1991.8 1289.5 1992.7 1291.5 1994.4 1295.5 1991.4 1297.5 1991.3 1299.5 1992.8 1301.5 1996.6 1303.5 1998.1 1305.5 1998.8 1323.5 2000.8 1327 1999" fill="none" stroke="#0000FF" stroke-width="7.2" stroke-linejoin="round"/>
<path d="M143.5 1927.8 145.5 1928 151.5 1926.7 155.5 1927.3 159.5 1926.9 161.5 1927.7 173.5 1927 177.5 1928.4 179.5 1928.3 183.5 1927.7 185.5 1926.6 187.5 1927.5 191.5 1925.9 195.5 1927.3 197.5 1926.9 199.5 1928 201.5 1927.6 203.5 1926.5 205.5 1927.2 215.5 1926.1 221.5 1927.9 223.5 1927.7 225.5 1926.7 229.5 1926.5 231.5 1927 233.5 1925.9 235.5 1925.8 239.5 1926.8 247.5 1926.8 249.5 1926.3 257.5 1927.3 259.5 1926.7 263.5 1927.7 265.5 1927 267.5 1927 275.5 1927.7 283.5 1926.3 285.5 1926.9 291.5 1926.2 295.5 1926.7 297.5 1928 299.5 1927.9 301.5 1927 305.5 1927.5 307.5 1927.1 309.5 1927.9 315.5 1925.7 319.5 1926.7 325.5 1926.4 327.5 1926.7 331.5 1925.8 333.5 1926.3 337.5 1926 339.5 1927.3 343.5 1926.6 349.5 1926.9 351.5 1925.9 353.5 1926 357.5 1927.6 363.5 1926.3 371.5 1926.8 373.5 1925.7 375.5 1926.4 379.5 1926.4 381.5 1927.2 385.5 1926.9 387.5 1925.8 397.5 1927 399.5 1926 401.5 1925.8 403.5 1926 405.5 1927 413.5 1926.1 419.5 1927.1 425.5 1926.4 427.5 1927.4 429.5 1927.2 435.5 1925 437.5 1925.2 439.5 1923.6 441.5 1923.2 443.5 1923.9 445.5 1925.6 449.5 1926.6 453.5 1925.2 455.5 1925.6 459.5 1923.6 465.5 1923.5 467.5 1921.3 469.5 1920.3 471.5 1921.3 475.5 1920.3 481.5 1922 483.5 1921.6 485.5 1922.3 487.5 1922 491.5 1923.2 495.5 1923.5 497.5 1924.7 499.5 1924 503.5 1925 509.5 1924.2 517.5 1925.8 521.5 1925.4 523.5 1926 527.5 1925.6 533.5 1927.8 535.5 1927.4 537.5 1925.9 539.5 1925.7 541.5 1926.5 545.5 1926.9 547.5 1928 551.5 1927.7 555.5 1926 559.5 1926.3 561.5 1925.9 567.5 1927.1 571.5 1925.8 575.5 1926.8 579.5 1926.4 583.5 1927.4 589.5 1925.4 593.5 1923.1 595.5 1924.7 601.5 1923.9 603.5 1922.7 605.5 1923.6 607.5 1923.1 609.5 1923.6 613.5 1921.8 615.5 1921.4 617.5 1921.9 619.5 1918.9 623.5 1919.4 625.5 1918.2 627.5 1918 629.5 1917 631.5 1918.3 633.5 1917.2 635.5 1917.9 637.5 1917 641.5 1911.4 647.5 1904.8 651.5 1903.4 653.5 1905.5 655.5 1904.8 657.5 1905 659.5 1907.7 661.5 1908.2 663.5 1904.3 665.5 1896.3 667.5 1894.8 669.5 1894.5 671.5 1896.5 673.5 1896.6 679.5 1903.6 681.5 1902.4 683.5 1904.7 685.5 1906 687.5 1906.9 691.5 1907.2 697.5 1911.1 703.5 1908.3 705.5 1906 707.5 1906.9 709.5 1906.8 711.5 1905.8 715.5 1902.1 717.5 1902.3 725.5 1907.9 729.5 1908.2 733.5 1909.4 735.5 1910.8 737.5 1909.9 745.5 1892.1 749.5 1892.5 751.5 1891.4 753.5 1893.5 755.5 1894.6 759.5 1899 761.5 1898.7 763.5 1897.5 765.5 1898.4 767.5 1898.1 771.5 1894.7 775.5 1893.1 779.5 1887.9 783.5 1878.2 787.5 1874.7 791.5 1876.6 793.5 1874.5 797.5 1875 799.5 1873.3 801.5 1875.3 803.5 1873.6 805.5 1874 809.5 1879.6 811.5 1881.2 813.5 1878.3 815.5 1873.4 821.5 1853.7 827.5 1849.3 829.5 1848.7 833.5 1849 835.5 1847.4 839.5 1845.9 841.5 1842.8 843.5 1841.6 845.5 1838.7 847.5 1832.2 851.5 1824.8 855.5 1821.5 857.5 1821.9 859.5 1819.1 863.5 1817.4 865.5 1814.8 867.5 1813.6 871.5 1817.9 877.5 1822.5 883.5 1819.1 885.5 1821.3 891.5 1843.8 893.5 1848.7 895.5 1850 899.5 1851.1 907.5 1859.3 911.5 1861.5 917.5 1862 923.5 1849.4 925.5 1849.8 929.5 1865.8 931.5 1871 933.5 1872.9 937.5 1875 941.5 1874.9 943.5 1876.8 945.5 1877.7 947.5 1876.8 951.5 1879.7 955.5 1878.9 959.5 1883.8 961.5 1883.4 965.5 1885.3 971.5 1890.3 973.5 1890.6 981.5 1895.4 989.5 1904.5 991.5 1905.6 997.5 1911.5 1001.5 1914.3 1003.5 1914.7 1007.5 1916.9 1011.5 1917.1 1015.5 1918.3 1017.5 1919.9 1025.5 1919.6 1027.5 1921.2 1033.5 1921.7 1039.5 1923.8 1041.5 1923.3 1043.5 1924.4 1051.5 1925.7 1053.5 1928 1055.5 1928.3 1061.5 1926.7 1063.5 1927.9 1065.5 1927.1 1067.5 1926.9 1069.5 1927.5 1073.5 1926.4 1091.5 1927.8 1093.5 1926.6 1095.5 1927 1099.5 1926.2 1101.5 1927.7 1103.5 1927.8 1107.5 1926.9 1109.5 1927.5 1111.5 1926.4 1117.5 1927.5 1119.5 1925.9 1121.5 1925.1 1123.5 1926.7 1125.5 1927.2 1133.5 1926.2 1137.5 1927.4 1141.5 1925.8 1143.5 1926.6 1153.5 1928.2 1157.5 1926.6 1159.5 1927.4 1163.5 1926.8 1167.5 1926.9 1169.5 1926.1 1173.5 1927.5 1181.5 1928 1183.5 1926.8 1185.5 1926.4 1197.5 1927.1 1199.5 1926.4 1203.5 1927.2 1205.5 1927.1 1207.5 1925.8 1211.5 1926.5 1213.5 1925.9 1215.5 1927.1 1217.5 1927.4 1219.5 1925.9 1221.5 1926 1223.5 1927.4 1225.5 1927.6 1227.5 1926.3 1229.5 1926.4 1231.5 1927.2 1235.5 1926.9 1237.5 1927.8 1241.5 1925.8 1243.5 1926.6 1245.5 1926.2 1247.5 1927.5 1249.5 1927.9 1251.5 1927.7 1255.5 1928.7 1261.5 1926.2 1263.5 1926.8 1265.5 1926 1267.5 1926 1269.5 1927.1 1271.5 1927 1275.5 1928.8 1279.5 1925.6 1283.5 1920.8 1285.5 1920.4 1287.5 1919 1293.5 1912.9 1295.5 1914 1297.5 1912.6 1299.5 1913 1305.5 1922.3 1307.5 1924 1309.5 1924.4 1311.5 1926.5 1321.5 1927.9 1325.5 1927.4 1327 1926.8" fill="none" stroke="#008000" stroke-width="7.2" stroke-linejoin="round"/>
<path d="M143.5 1863.1 147.5 1862.1 151.5 1862.6 153.5 1863.4 159.5 1863.3 161.5 1862.8 165.5 1863.3 167.5 1862.2 173.5 1863.3 177.5 1862.2 179.5 1862.5 181.5 1863.7 185.5 1862.5 187.5 1863 189.5 1865 193.5 1862.1 203.5 1863.9 205.5 1863.1 209.5 1862.9 213.5 1863.9 217.5 1862.5 221.5 1862.8 223.5 1863.7 231.5 1862.9 237.5 1863.5 239.5 1862.5 245.5 1862.9 247.5 1862.1 249.5 1863.2 253.5 1862.2 255.5 1863 261.5 1863.3 263.5 1862.3 269.5 1863 273.5 1862.3 275.5 1863.2 279.5 1863.6 283.5 1861.4 285.5 1862.8 287.5 1863 289.5 1862.1 293.5 1862.9 301.5 1862.8 303.5 1861.9 305.5 1862.9 309.5 1862.9 313.5 1861.8 315.5 1863.3 317.5 1863.4 319.5 1861.7 327.5 1862.8 329.5 1862.2 333.5 1862.4 335.5 1861.4 339.5 1863.7 343.5 1862.3 347.5 1864 351.5 1862.3 361.5 1861.8 365.5 1862.4 367.5 1862.2 371.5 1863.6 379.5 1862.6 381.5 1861.7 399.5 1862.8 405.5 1861.4 411.5 1862.6 413.5 1861.8 415.5 1862.5 419.5 1861.5 421.5 1861.3 423.5 1861.9 425.5 1861 431.5 1861.8 433.5 1861.5 439.5 1858.5 449.5 1862 455.5 1861.6 457.5 1860.7 461.5 1861.7 463.5 1861.1 465.5 1862.1 467.5 1861.4 475.5 1862.3 477.5 1861.4 479.5 1862.2 483.5 1861.9 485.5 1862.4 489.5 1861.5 491.5 1862.5 497.5 1862.1 501.5 1862.9 505.5 1861.3 509.5 1862.2 513.5 1861.3 521.5 1862.7 523.5 1861.4 525.5 1862.2 533.5 1863.5 537.5 1863.1 545.5 1863.7 547.5 1862.3 549.5 1862.6 551.5 1864.1 557.5 1863.8 559.5 1862.5 561.5 1863.5 563.5 1862.4 565.5 1862.3 567.5 1862.9 569.5 1862 573.5 1862.8 575.5 1861.6 577.5 1861.3 581.5 1861.8 585.5 1860.2 587.5 1861.2 589.5 1860.2 591.5 1857.5 599.5 1858.7 601.5 1858.1 603.5 1859.5 605.5 1859.3 609.5 1856.2 615.5 1857.5 617.5 1855.9 621.5 1854.4 623.5 1854.7 625.5 1856.2 627.5 1856.2 629.5 1853.9 635.5 1850.5 637.5 1851.1 639.5 1850.2 643.5 1846.8 649.5 1843.2 651.5 1841.4 655.5 1840.2 659.5 1837.7 665.5 1840.9 669.5 1838 671.5 1838.9 673.5 1841.3 677.5 1841.3 679.5 1843.4 681.5 1844 687.5 1844.7 689.5 1845.9 691.5 1844.2 695.5 1846.3 697.5 1846.4 699.5 1845 701.5 1844.6 703.5 1845.6 707.5 1841.4 711.5 1841.2 715.5 1837.2 717.5 1837.6 719.5 1836.3 723.5 1840.1 725.5 1840.2 729.5 1842.7 735.5 1844.2 737.5 1844 739.5 1842.5 741.5 1836.9 743.5 1834.5 745.5 1829.6 747.5 1827.1 751.5 1827.7 753.5 1828.8 755.5 1832.8 757.5 1833.9 761.5 1834 763.5 1832.8 767.5 1825.5 769.5 1819.4 771.5 1818.7 775.5 1820.9 783.5 1821.8 785.5 1821.2 787.5 1821.7 789.5 1820.5 791.5 1821.2 793.5 1820.4 795.5 1820.5 797.5 1817.8 801.5 1816.1 803.5 1815.9 805.5 1813.3 807.5 1813.5 809.5 1811.9 813.5 1804.2 817.5 1799.2 819.5 1794.6 825.5 1789.2 827.5 1788.5 829.5 1788.7 831.5 1786.6 833.5 1783.2 835.5 1783.6 839.5 1780.4 841.5 1777.4 843.5 1776.5 847.5 1767.5 853.5 1751.5 855.5 1749.3 857.5 1745.1 861.5 1741.7 863.5 1741 869.5 1748.2 871.5 1749 873.5 1746 877.5 1744.5 879.5 1741.6 881.5 1741.4 883.5 1742.3 885.5 1747.3 889.5 1769.1 891.5 1775.9 893.5 1778.2 895.5 1778.3 899.5 1783.2 901.5 1783.8 905.5 1787.2 909.5 1793.9 913.5 1797.5 917.5 1798.8 919.5 1797 923.5 1790 925.5 1788.9 927.5 1792.5 929.5 1800.7 931.5 1806 939.5 1813 941.5 1812.7 945.5 1816.1 947.5 1814.4 953.5 1816.4 957.5 1820 959.5 1820.1 963.5 1823.3 967.5 1825.4 969.5 1827.9 971.5 1828.4 975.5 1830.4 979.5 1833.1 981.5 1835.2 983.5 1835.4 987.5 1839.4 989.5 1840.1 993.5 1844.7 1003.5 1850.3 1013.5 1854.1 1015.5 1855.6 1019.5 1857.5 1025.5 1858.1 1029.5 1859.9 1039.5 1861.5 1041.5 1863.3 1043.5 1863.7 1047.5 1861.2 1051.5 1862.4 1057.5 1861.6 1061.5 1863.1 1063.5 1862.1 1067.5 1862 1069.5 1861.2 1071.5 1861.9 1075.5 1861.7 1081.5 1862.9 1087.5 1862.1 1095.5 1863.3 1099.5 1861.7 1105.5 1863 1109.5 1862.3 1113.5 1863.5 1121.5 1862.2 1123.5 1863.2 1127.5 1862.6 1131.5 1862.9 1135.5 1862.2 1145.5 1862.3 1147.5 1862.5 1149.5 1863.6 1151.5 1863 1153.5 1863.3 1155.5 1862.3 1161.5 1863.4 1163.5 1862.8 1165.5 1863.4 1167.5 1862.5 1171.5 1861.9 1175.5 1862.3 1179.5 1861.5 1181.5 1862.8 1189.5 1862.1 1193.5 1862.7 1205.5 1862.1 1213.5 1862.8 1223.5 1861.3 1225.5 1862.2 1227.5 1861.4 1231.5 1862.9 1241.5 1861.3 1245.5 1862.8 1251.5 1861.9 1257.5 1863.3 1271.5 1861.5 1273.5 1861.9 1275.5 1863.5 1279.5 1861.7 1281.5 1861.3 1285.5 1857.1 1287.5 1856 1289.5 1856.9 1291.5 1855.7 1293.5 1856.5 1297.5 1855.8 1301.5 1858.7 1303.5 1861.6 1305.5 1862.5 1309.5 1861.7 1311.5 1860.1 1315.5 1861.1 1317.5 1862.5 1323.5 1861.9 1327 1862.5" fill="none" stroke="#8000FF" stroke-width="7.2" stroke-linejoin="round"/>
<path d="M143.5 1779.4 145.5 1780.4 147.5 1780.6 151.5 1780.1 153.5 1780.7 159.5 1780.6 161.5 1779.9 167.5 1781 169.5 1779.5 171.5 1780.1 173.5 1779.5 185.5 1780.4 191.5 1780 195.5 1780.7 201.5 1779 207.5 1779.6 209.5 1779.1 219.5 1781 223.5 1780 225.5 1780.2 227.5 1779.7 231.5 1781.2 243.5 1779.1 245.5 1780.1 249.5 1780.7 253.5 1780.1 259.5 1781.6 263.5 1780.3 269.5 1779.9 271.5 1780.9 275.5 1780.4 277.5 1780.9 281.5 1779.6 283.5 1780.4 287.5 1779.3 289.5 1779.9 293.5 1779.8 295.5 1780.7 303.5 1779.8 307.5 1780.3 309.5 1781.5 311.5 1779.9 317.5 1779.5 325.5 1780.8 329.5 1780.1 331.5 1781.2 333.5 1781.4 337.5 1780.1 341.5 1780.5 349.5 1780.1 353.5 1781 357.5 1780.2 361.5 1780.7 367.5 1779.7 369.5 1779.9 371.5 1779.2 373.5 1779.5 375.5 1781 379.5 1780.3 381.5 1778.7 385.5 1779.8 391.5 1779.7 393.5 1780.6 397.5 1779.5 403.5 1781 405.5 1780.6 407.5 1779.4 411.5 1780.2 413.5 1779.5 421.5 1780.4 425.5 1779.7 429.5 1780.6 437.5 1779.2 441.5 1777.3 449.5 1779.1 451.5 1778.8 453.5 1779.6 459.5 1780.3 461.5 1780.2 463.5 1779.1 469.5 1778.2 475.5 1779.2 477.5 1777.7 479.5 1778.8 485.5 1778.5 489.5 1778.9 491.5 1779.8 495.5 1778 497.5 1777.9 501.5 1779 505.5 1778.6 507.5 1777.3 517.5 1777.9 521.5 1775.4 525.5 1776.2 529.5 1777.9 541.5 1776.2 543.5 1775.3 547.5 1776.4 551.5 1774.8 553.5 1775.7 555.5 1775.8 557.5 1775.1 561.5 1774.8 567.5 1775.8 573.5 1777.7 579.5 1778.2 581.5 1777.6 587.5 1777.8 593.5 1774.9 595.5 1773.1 599.5 1774.5 601.5 1773.8 603.5 1772.1 605.5 1772 607.5 1771 611.5 1770.8 613.5 1769.1 615.5 1768.8 617.5 1767 619.5 1767.9 621.5 1765.9 629.5 1766.9 631.5 1764.6 635.5 1762.3 639.5 1763.4 641.5 1762.4 643.5 1759.5 645.5 1758.7 647.5 1759.8 649.5 1759 651.5 1756.1 655.5 1757 659.5 1764.3 661.5 1766.1 663.5 1765.5 667.5 1758.8 669.5 1757.5 671.5 1759.1 673.5 1759.6 675.5 1757.8 677.5 1758.3 679.5 1760.7 681.5 1761.3 683.5 1759.2 685.5 1758 693.5 1759.3 695.5 1756.5 697.5 1756.3 699.5 1759.1 701.5 1757.4 703.5 1757.5 705.5 1755.2 707.5 1756.2 709.5 1754.3 711.5 1753.7 713.5 1753.6 715.5 1754.9 717.5 1753.7 719.5 1754 723.5 1758.2 727.5 1758.8 731.5 1761.9 733.5 1760.7 735.5 1760.5 737.5 1762.3 739.5 1758.6 741.5 1751.6 745.5 1743.5 747.5 1740.8 749.5 1739.8 751.5 1740.6 757.5 1748.4 759.5 1747.6 761.5 1749.5 763.5 1747.5 765.5 1743.1 769.5 1731.5 773.5 1728.6 775.5 1729.8 777.5 1732.6 779.5 1733.4 781.5 1731.9 783.5 1731.6 789.5 1733.9 791.5 1730.9 793.5 1729.7 797.5 1730.3 799.5 1731.6 801.5 1731.5 803.5 1730.3 805.5 1731.3 807.5 1731.6 809.5 1730.6 815.5 1716.2 817.5 1713.7 819.5 1709.4 821.5 1707.5 827.5 1704.2 833.5 1696.5 841.5 1682.5 843.5 1681.3 851.5 1663.7 853.5 1657 857.5 1653 863.5 1649 865.5 1650.4 867.5 1650.1 869.5 1648.3 873.5 1649.7 877.5 1647.9 879.5 1651.1 881.5 1651.1 883.5 1648.4 885.5 1652 889.5 1673.6 891.5 1680.2 893.5 1683.6 897.5 1686.3 899.5 1688.9 901.5 1692.6 907.5 1707.6 909.5 1711.5 911.5 1714 913.5 1714.3 915.5 1715.8 917.5 1715.8 919.5 1713.1 921.5 1712.3 923.5 1713.9 925.5 1714.4 929.5 1724.2 935.5 1733 937.5 1732.7 939.5 1733.5 947.5 1732.5 951.5 1736.9 955.5 1736.9 959.5 1740.4 963.5 1742.5 969.5 1748.1 971.5 1748.7 975.5 1751.5 981.5 1758 983.5 1758.5 989.5 1761.8 993.5 1765.5 995.5 1765.8 997.5 1767.5 1003.5 1770.8 1013.5 1773.6 1019.5 1777.1 1023.5 1777.2 1027.5 1779.2 1031.5 1780.3 1033.5 1779.6 1035.5 1780.4 1041.5 1779.8 1043.5 1780.1 1045.5 1781.7 1047.5 1782.1 1049.5 1781.4 1055.5 1781.8 1057.5 1780.7 1059.5 1781.6 1061.5 1780.7 1063.5 1782.1 1065.5 1782.4 1067.5 1780.7 1073.5 1781.4 1075.5 1780.1 1079.5 1781.6 1087.5 1780.8 1089.5 1781.2 1091.5 1782.3 1093.5 1781 1103.5 1780.9 1109.5 1781.4 1113.5 1781.1 1117.5 1782.4 1119.5 1782.2 1121.5 1780.7 1125.5 1780.2 1133.5 1781.1 1139.5 1780.2 1141.5 1781.1 1143.5 1780.6 1147.5 1781.2 1149.5 1780.5 1151.5 1781.5 1155.5 1781.1 1157.5 1780.2 1161.5 1780.9 1169.5 1780.5 1173.5 1781.2 1175.5 1780.5 1183.5 1780.9 1187.5 1780.3 1189.5 1781.6 1195.5 1780.3 1205.5 1780.4 1207.5 1782 1217.5 1780.5 1219.5 1779.4 1223.5 1781 1227.5 1779.5 1231.5 1780.9 1233.5 1780.1 1235.5 1780.4 1237.5 1780 1239.5 1781.2 1243.5 1781.6 1245.5 1780.8 1249.5 1780.8 1251.5 1779.9 1253.5 1780.5 1257.5 1779.5 1259.5 1779.9 1261.5 1781.5 1263.5 1781.4 1267.5 1779.2 1269.5 1780.9 1271.5 1781.7 1277.5 1779.4 1279.5 1780 1281.5 1778.9 1285.5 1774.4 1287.5 1773.5 1291.5 1774.5 1293.5 1773.4 1297.5 1774.9 1301.5 1773.7 1303.5 1776 1305.5 1779.6 1307.5 1779.9 1309.5 1779.1 1319.5 1781 1323.5 1780.1 1325.5 1780.7 1327 1780.1" fill="none" stroke="#808000" stroke-width="7.2" stroke-linejoin="round"/>
<path d="M143.5 1711.5 145.5 1711.9 149.5 1710.1 151.5 1711 155.5 1710.4 157.5 1711.1 161.5 1710.3 163.5 1710.8 167.5 1709.9 169.5 1710.5 171.5 1710.1 173.5 1710.7 175.5 1710.2 177.5 1710.9 181.5 1710.1 185.5 1711.2 187.5 1710 191.5 1710.1 195.5 1711.5 199.5 1711.5 201.5 1711 203.5 1711.3 209.5 1709.9 211.5 1710.9 217.5 1710.2 219.5 1711 223.5 1710.5 225.5 1711.4 229.5 1710.9 231.5 1711.7 235.5 1710.6 237.5 1710.9 239.5 1712.2 241.5 1712.4 247.5 1710.5 249.5 1710.9 253.5 1710.1 255.5 1711.1 259.5 1711.1 265.5 1710 273.5 1710.9 277.5 1710.5 279.5 1711.3 285.5 1710.9 287.5 1710.3 289.5 1710.5 293.5 1712 297.5 1710.7 299.5 1711.1 301.5 1710 305.5 1711.3 307.5 1710.9 309.5 1711.3 311.5 1710 315.5 1710.9 323.5 1710.6 325.5 1711.1 333.5 1709.5 335.5 1710.9 337.5 1711.1 343.5 1709.5 345.5 1709.7 347.5 1710.9 355.5 1710.6 357.5 1710 359.5 1710.9 363.5 1711.2 367.5 1710.2 369.5 1710.6 371.5 1710.2 373.5 1711.1 377.5 1710.4 381.5 1711.4 383.5 1710.6 385.5 1711.4 391.5 1711 395.5 1711.7 399.5 1710.6 403.5 1711.2 407.5 1710 411.5 1710.8 417.5 1710.4 419.5 1711.2 427.5 1710.8 433.5 1710.1 439.5 1706.9 443.5 1707.2 445.5 1708 449.5 1711 457.5 1710.3 459.5 1708.8 463.5 1709.5 467.5 1708.9 473.5 1710.1 479.5 1709.2 481.5 1707.9 483.5 1708.6 485.5 1707.8 489.5 1708.8 493.5 1707.9 497.5 1708.1 499.5 1707.7 501.5 1706.3 505.5 1706.4 509.5 1705.7 519.5 1702.4 523.5 1702.4 525.5 1703.4 533.5 1702.2 537.5 1704.1 539.5 1703.9 543.5 1704.5 551.5 1703.8 557.5 1696.6 559.5 1695.1 561.5 1694.5 565.5 1696.7 571.5 1704.2 577.5 1705.9 579.5 1705.1 581.5 1705 585.5 1703.1 589.5 1702.4 591.5 1701.1 593.5 1701.2 597.5 1698.1 599.5 1698.4 601.5 1699.5 605.5 1695.3 607.5 1695.2 611.5 1692.1 613.5 1692.5 615.5 1691.3 617.5 1692.4 619.5 1692 625.5 1687.7 627.5 1687.8 629.5 1687 631.5 1687.3 633.5 1685.5 635.5 1686.8 639.5 1683.8 641.5 1683.3 643.5 1684.6 647.5 1684.8 651.5 1684.1 653.5 1685 655.5 1685.1 659.5 1688.5 661.5 1696.7 663.5 1701.5 667.5 1699.7 669.5 1699.7 671.5 1697.3 675.5 1695.2 677.5 1693.2 679.5 1693.4 681.5 1692.3 683.5 1692.1 685.5 1690.6 687.5 1691.5 693.5 1684.6 695.5 1684.5 697.5 1682.7 703.5 1682.8 705.5 1681.4 709.5 1680 713.5 1680.9 715.5 1683.2 717.5 1682 719.5 1682.4 723.5 1687.2 725.5 1686.9 727.5 1690.3 731.5 1690.5 733.5 1691.3 735.5 1693.1 737.5 1691.8 739.5 1688.2 743.5 1673.6 745.5 1670.3 747.5 1668.5 749.5 1668.3 755.5 1679.7 757.5 1678.9 759.5 1675.8 761.5 1669.9 765.5 1662.5 771.5 1657.8 773.5 1659.6 775.5 1659.3 777.5 1664 779.5 1665.4 781.5 1663 787.5 1664.4 789.5 1664 791.5 1661.7 793.5 1661.9 795.5 1663.3 797.5 1662.6 801.5 1659.3 803.5 1659.7 805.5 1658.8 807.5 1659 809.5 1657.8 813.5 1649.8 821.5 1630.5 823.5 1630.1 827.5 1627.8 831.5 1624.5 833.5 1628.4 835.5 1628 837.5 1624.2 839.5 1623.3 841.5 1621.3 843.5 1617.8 845.5 1611.3 849.5 1594.2 855.5 1579.2 857.5 1579 861.5 1572.6 867.5 1567.3 869.5 1566.6 871.5 1567.3 873.5 1574.1 875.5 1578.8 877.5 1576.7 881.5 1564 883.5 1561.7 885.5 1568 889.5 1600.8 891.5 1609.7 893.5 1613.3 895.5 1614.3 897.5 1613.9 899.5 1615.1 901.5 1617.7 905.5 1625.6 907.5 1632.5 909.5 1636 911.5 1637.3 915.5 1643.5 917.5 1641.7 921.5 1647.2 923.5 1647.2 925.5 1648.8 929.5 1663 933.5 1666.3 935.5 1666 939.5 1668.8 941.5 1668.5 943.5 1669 945.5 1670.6 947.5 1671.2 949.5 1669.9 953.5 1672 955.5 1671.3 957.5 1672.6 959.5 1675.2 965.5 1678.8 967.5 1680.8 973.5 1682.9 975.5 1685.3 983.5 1689.9 989.5 1695.4 991.5 1695.4 997.5 1699 999.5 1699.4 1003.5 1701.6 1005.5 1702.3 1007.5 1702.2 1009.5 1703.9 1013.5 1705.9 1015.5 1705.7 1019.5 1706.7 1023.5 1708.8 1037.5 1711.6 1043.5 1711.2 1053.5 1712.3 1055.5 1710.9 1057.5 1712 1063.5 1712.9 1067.5 1711.3 1069.5 1712.1 1075.5 1711.8 1079.5 1710.9 1081.5 1711.6 1087.5 1711.1 1091.5 1711.5 1095.5 1712.7 1101.5 1711.7 1103.5 1712.4 1105.5 1711.9 1111.5 1711.7 1113.5 1710.9 1119.5 1712.6 1125.5 1710.9 1127.5 1711.4 1129.5 1710.7 1133.5 1711.9 1139.5 1710.6 1143.5 1712.1 1147.5 1711.4 1153.5 1712.1 1155.5 1711.2 1161.5 1712.3 1163.5 1712.4 1165.5 1711.6 1169.5 1712.4 1175.5 1711.2 1177.5 1712 1179.5 1711.9 1181.5 1712.6 1183.5 1712.5 1185.5 1711 1189.5 1711.3 1191.5 1710.8 1195.5 1712.1 1201.5 1710.4 1209.5 1711.3 1213.5 1710.6 1217.5 1711.7 1219.5 1711.3 1221.5 1712.6 1223.5 1712.4 1227.5 1710 1229.5 1709.9 1235.5 1711 1237.5 1712.3 1241.5 1712.1 1243.5 1711.2 1245.5 1711.9 1249.5 1711.5 1253.5 1713.2 1255.5 1710.7 1259.5 1710 1261.5 1711.4 1265.5 1712.9 1269.5 1710 1271.5 1710.3 1273.5 1711.8 1275.5 1709.9 1277.5 1711.2 1279.5 1710.5 1281.5 1709.5 1285.5 1701.6 1287.5 1701 1289.5 1706.1 1291.5 1709.2 1295.5 1701.2 1297.5 1702.4 1301.5 1709.5 1303.5 1709.6 1307.5 1712.3 1309.5 1711.2 1311.5 1712.2 1315.5 1712.4 1319.5 1711.7 1323.5 1712.2 1327 1711.3" fill="none" stroke="#008080" stroke-width="7.2" stroke-linejoin="round"/>
<path d="M143.5 1644.7 149.5 1644.2 151.5 1643.3 153.5 1644.2 155.5 1643.2 159.5 1643.7 161.5 1642.6 165.5 1644.2 169.5 1644 173.5 1642.7 175.5 1643.3 185.5 1643.1 187.5 1643.6 189.5 1644.7 193.5 1643.7 195.5 1644.3 199.5 1644.5 205.5 1643.7 207.5 1644.4 211.5 1643.9 213.5 1644.4 215.5 1642.7 219.5 1643.8 221.5 1643.2 229.5 1643.9 237.5 1642.9 241.5 1643.5 243.5 1642.4 253.5 1643.9 257.5 1642.7 259.5 1643.6 265.5 1643.5 269.5 1644.8 271.5 1644.1 273.5 1644.7 275.5 1643.5 277.5 1643.5 279.5 1644.2 287.5 1644.3 289.5 1642.9 291.5 1642.9 295.5 1645 297.5 1643.7 301.5 1644.8 305.5 1644.7 307.5 1642.9 311.5 1642.3 315.5 1643.5 317.5 1643.2 325.5 1643.7 329.5 1643.2 333.5 1644.8 337.5 1643.5 341.5 1644.2 343.5 1643.9 347.5 1642.2 349.5 1643.6 351.5 1643.7 357.5 1642.3 361.5 1644.2 371.5 1642.5 375.5 1644.6 377.5 1644.7 383.5 1642.5 387.5 1643.6 389.5 1643.6 391.5 1642.7 397.5 1643.8 399.5 1643.5 403.5 1644.2 407.5 1643.1 411.5 1643 415.5 1644.3 431.5 1643.7 435.5 1642.7 439.5 1640.4 441.5 1639.9 445.5 1642.8 447.5 1642.8 449.5 1641.9 451.5 1643 455.5 1642.7 459.5 1641.6 461.5 1643.5 465.5 1643.6 469.5 1641.9 471.5 1642.8 473.5 1640.9 477.5 1641.4 481.5 1640.1 487.5 1641.5 489.5 1640.5 493.5 1640.8 497.5 1639.7 499.5 1639.9 501.5 1638.9 503.5 1639 511.5 1636.2 515.5 1636.4 521.5 1635.2 523.5 1633.9 527.5 1634.5 531.5 1634 533.5 1634.6 537.5 1632.5 539.5 1632.6 541.5 1631.9 543.5 1632.6 549.5 1631.2 555.5 1626.7 563.5 1627.4 565.5 1628.2 571.5 1632.6 577.5 1635.1 579.5 1636.8 583.5 1635.9 589.5 1633.2 591.5 1631.5 593.5 1630.7 597.5 1629.9 599.5 1628.3 603.5 1627.8 605.5 1626 609.5 1625.7 613.5 1624.2 615.5 1624 617.5 1621.7 619.5 1622.6 621.5 1619.7 623.5 1619 627.5 1620.6 629.5 1617.1 631.5 1615.4 633.5 1616 635.5 1615.8 637.5 1617.3 641.5 1614.2 643.5 1615.3 645.5 1615.1 647.5 1614 649.5 1617.4 653.5 1615.6 655.5 1616.3 661.5 1625 665.5 1628.5 667.5 1628.2 669.5 1629.7 671.5 1629.4 673.5 1626.2 675.5 1627.7 677.5 1627 679.5 1628.5 681.5 1628.2 683.5 1626.5 689.5 1627.2 691.5 1628.2 695.5 1624 699.5 1624.5 703.5 1623.3 707.5 1624.7 709.5 1623.3 711.5 1620.3 713.5 1619.1 715.5 1619 717.5 1617.8 719.5 1617.5 723.5 1611.4 725.5 1610 727.5 1611.8 735.5 1626.7 739.5 1624.6 741.5 1620.6 745.5 1608 747.5 1606.3 755.5 1607.4 757.5 1607 761.5 1608.8 763.5 1608.1 765.5 1608.8 767.5 1607.5 769.5 1605 773.5 1597.5 777.5 1600.2 783.5 1598.7 785.5 1596.8 787.5 1596.9 789.5 1595.5 791.5 1595.3 793.5 1595.9 797.5 1594.7 799.5 1596 803.5 1596.2 805.5 1593.8 807.5 1593.7 809.5 1592.3 813.5 1583.3 815.5 1576.8 819.5 1571.4 823.5 1569.5 825.5 1567.5 827.5 1563.2 829.5 1561.7 831.5 1561.1 835.5 1555.9 837.5 1554.6 845.5 1543.2 853.5 1511.9 855.5 1505.1 857.5 1501.4 859.5 1500.4 861.5 1501.7 863.5 1503.9 865.5 1504.6 867.5 1508.1 871.5 1509.5 873.5 1507.6 875.5 1503.1 877.5 1503.2 883.5 1498.6 885.5 1506.4 889.5 1532.4 891.5 1541.4 893.5 1546.2 895.5 1548.7 899.5 1551.8 905.5 1567.1 909.5 1574.9 911.5 1577.6 915.5 1577 919.5 1574.4 923.5 1573.1 925.5 1573.4 927.5 1578.9 929.5 1588.5 931.5 1593.7 935.5 1598.3 937.5 1597.7 939.5 1595.7 941.5 1596.5 943.5 1599.3 945.5 1600.2 947.5 1599.4 953.5 1601.1 955.5 1602.4 957.5 1602 967.5 1610 969.5 1610.8 975.5 1618 977.5 1619.6 979.5 1619.3 985.5 1624.2 991.5 1628.1 999.5 1636.5 1001.5 1636.8 1003.5 1636.2 1007.5 1638.9 1017.5 1640.1 1019.5 1642.3 1021.5 1642.8 1027.5 1642.6 1033.5 1644.8 1037.5 1643.4 1039.5 1644.5 1041.5 1644.9 1043.5 1644.6 1047.5 1645.6 1049.5 1644.8 1059.5 1645.4 1063.5 1644 1067.5 1645.1 1075.5 1644.3 1077.5 1645.3 1085.5 1644.1 1087.5 1644.9 1091.5 1645.5 1095.5 1645.3 1097.5 1645.9 1099.5 1645.1 1107.5 1644.7 1109.5 1644.1 1113.5 1645.3 1119.5 1646.2 1123.5 1644.7 1129.5 1646.2 1141.5 1645.6 1147.5 1644.1 1155.5 1645.8 1159.5 1643.6 1169.5 1645 1173.5 1644.7 1179.5 1645.3 1185.5 1645.1 1187.5 1644.5 1197.5 1644.7 1199.5 1644.3 1201.5 1644.5 1203.5 1646 1205.5 1646.6 1207.5 1646.1 1211.5 1644.1 1213.5 1645.2 1217.5 1644.8 1225.5 1646.3 1229.5 1644.7 1233.5 1644.2 1237.5 1644.5 1241.5 1645.9 1243.5 1645.1 1253.5 1645.6 1255.5 1644.9 1259.5 1645.9 1261.5 1645.1 1269.5 1645.4 1273.5 1644.7 1279.5 1646.2 1281.5 1644.3 1283.5 1644.5 1289.5 1637.9 1295.5 1634.9 1297.5 1634.7 1301.5 1640.9 1305.5 1644.9 1307.5 1645.1 1309.5 1643.8 1311.5 1643.8 1313.5 1643.9 1317.5 1645.3 1323.5 1644.4 1327 1645.7" fill="none" stroke="#800000" stroke-width="7.2" stroke-linejoin="round"/>
<path d="M143.5 1574.6 145.5 1574 147.5 1574.8 151.5 1574.1 153.5 1575.1 157.5 1573.7 167.5 1575 169.5 1574.6 171.5 1575.4 173.5 1575 175.5 1575.4 177.5 1575 181.5 1575.2 183.5 1574.4 185.5 1574.8 187.5 1574.1 193.5 1574.6 195.5 1573.6 197.5 1574.2 199.5 1574.1 201.5 1573.3 203.5 1573.2 209.5 1574.2 211.5 1573.7 217.5 1574.4 219.5 1574.3 221.5 1573 223.5 1573 225.5 1574.3 227.5 1573.9 231.5 1574.6 237.5 1574.4 239.5 1573.8 245.5 1574.9 255.5 1574 261.5 1574.2 265.5 1574.9 267.5 1574.5 269.5 1575.5 271.5 1574.8 275.5 1575 279.5 1574 283.5 1574.7 287.5 1573.1 289.5 1574.8 293.5 1574 295.5 1574.4 301.5 1573.9 307.5 1574.9 309.5 1574.7 313.5 1573 317.5 1574.5 319.5 1574.6 321.5 1573.8 325.5 1574.3 327.5 1575.2 329.5 1575.2 333.5 1573.2 337.5 1574 341.5 1573.6 343.5 1574.9 345.5 1575.2 349.5 1574 357.5 1575.1 359.5 1574.4 363.5 1574.8 365.5 1573.9 369.5 1574.9 373.5 1574 379.5 1575.1 385.5 1573.7 387.5 1574.1 391.5 1573.8 395.5 1575.2 401.5 1573.5 409.5 1574.9 413.5 1574 425.5 1574.7 429.5 1573.3 431.5 1574.2 433.5 1574.2 439.5 1570.9 443.5 1571.3 449.5 1573.6 457.5 1574.3 461.5 1573 465.5 1572.8 467.5 1573.7 469.5 1573.5 471.5 1572.1 473.5 1572 475.5 1573 481.5 1571.2 483.5 1572.6 485.5 1573 489.5 1571.2 491.5 1572 495.5 1570.9 497.5 1571.4 499.5 1570 501.5 1569.9 503.5 1569 505.5 1569 509.5 1566.6 511.5 1567 517.5 1561.9 521.5 1561.6 525.5 1559.4 527.5 1559.7 529.5 1558.1 537.5 1556.1 539.5 1554.5 541.5 1554.1 547.5 1558.5 553.5 1559.5 559.5 1544.7 561.5 1543.7 563.5 1546.4 567.5 1554.1 571.5 1559.5 573.5 1561.5 575.5 1561.8 579.5 1563.7 583.5 1562.5 587.5 1559.8 589.5 1559.7 591.5 1560.4 593.5 1558.5 595.5 1554.9 599.5 1554.2 601.5 1555.3 605.5 1555 607.5 1553.3 609.5 1550.3 611.5 1549.9 615.5 1547 617.5 1548.3 619.5 1547.9 621.5 1546.3 623.5 1546.9 625.5 1545.9 627.5 1543.5 629.5 1542.5 631.5 1543.1 633.5 1542.2 635.5 1539.8 637.5 1539.1 641.5 1539.9 643.5 1538.8 645.5 1539.5 649.5 1538.7 653.5 1543.9 655.5 1543 659.5 1548.5 663.5 1558.5 665.5 1560.6 669.5 1558.5 671.5 1559.4 673.5 1558.8 677.5 1555.2 679.5 1555.7 683.5 1553.5 687.5 1556.6 691.5 1554 697.5 1552.8 701.5 1550.2 705.5 1550.8 707.5 1549.7 709.5 1547.4 713.5 1546.9 715.5 1545.3 717.5 1546 719.5 1543.6 721.5 1543.5 723.5 1545 725.5 1543.7 727.5 1544.3 733.5 1555.2 735.5 1556.3 737.5 1555.2 739.5 1552.3 743.5 1544.5 745.5 1538.7 747.5 1535.3 749.5 1535.3 753.5 1538.2 757.5 1539.8 759.5 1539.2 761.5 1536.9 769.5 1523.1 771.5 1520.7 773.5 1522.6 775.5 1523.6 777.5 1520.2 779.5 1518.5 783.5 1520.1 785.5 1518.9 787.5 1519.9 789.5 1522 791.5 1525.8 793.5 1527.9 795.5 1528.2 797.5 1526.3 803.5 1527.8 807.5 1522.7 811.5 1515.1 815.5 1503.3 819.5 1494.3 823.5 1487.6 827.5 1482.1 829.5 1480.5 837.5 1466.7 839.5 1464.1 849.5 1444.3 855.5 1436 857.5 1430 861.5 1429.3 867.5 1433.2 871.5 1434.5 877.5 1430.5 879.5 1430.1 881.5 1428.1 883.5 1427.7 885.5 1430.7 889.5 1452.9 891.5 1461.1 899.5 1481.4 905.5 1488.5 907.5 1494.1 911.5 1501.8 915.5 1507.4 917.5 1511.9 919.5 1514.7 923.5 1500.4 925.5 1497.5 931.5 1522.1 935.5 1527.4 937.5 1528.4 939.5 1526.1 941.5 1527.6 943.5 1527.7 949.5 1533 951.5 1533.2 953.5 1531.1 955.5 1531.9 963.5 1539.8 967.5 1542.6 969.5 1544.8 971.5 1545.6 975.5 1548.4 979.5 1552 981.5 1552.3 989.5 1558.3 995.5 1561.8 1001.5 1563.6 1005.5 1566.8 1009.5 1567.8 1011.5 1568.9 1013.5 1568.5 1015.5 1570.5 1019.5 1572.4 1023.5 1572.7 1027.5 1574.3 1029.5 1573.8 1033.5 1574.9 1037.5 1574.4 1039.5 1575.9 1045.5 1574.4 1047.5 1574.5 1051.5 1576.1 1053.5 1575.9 1057.5 1574 1061.5 1575.2 1067.5 1574.3 1071.5 1575.3 1073.5 1574.6 1077.5 1575.2 1081.5 1574 1083.5 1575.1 1085.5 1575.5 1089.5 1574.2 1093.5 1575.6 1095.5 1574.5 1101.5 1574.9 1105.5 1574 1107.5 1575.1 1109.5 1575.2 1113.5 1574.3 1117.5 1575.7 1119.5 1574.9 1125.5 1575.3 1127.5 1574.7 1131.5 1575.5 1135.5 1574.6 1139.5 1576.2 1141.5 1575.6 1143.5 1576.1 1145.5 1575 1147.5 1574.7 1151.5 1575.5 1153.5 1574.6 1157.5 1575.9 1159.5 1575.3 1163.5 1576 1165.5 1574.2 1167.5 1574.5 1169.5 1573.5 1171.5 1573.7 1175.5 1575.6 1177.5 1575 1179.5 1575.7 1183.5 1575.1 1191.5 1575.5 1193.5 1574.6 1199.5 1574.2 1201.5 1574.3 1203.5 1575.2 1207.5 1574.6 1209.5 1575.4 1215.5 1574.3 1219.5 1575.6 1221.5 1575.6 1223.5 1574.5 1235.5 1575.3 1237.5 1574.2 1241.5 1575.4 1243.5 1574.3 1249.5 1573.8 1251.5 1574 1253.5 1575.1 1255.5 1574.5 1257.5 1575.9 1259.5 1575.6 1261.5 1574.2 1267.5 1573 1269.5 1574.7 1275.5 1575.2 1281.5 1573.6 1283.5 1571.9 1285.5 1568.5 1287.5 1568.4 1289.5 1569.7 1293.5 1568 1295.5 1569.2 1297.5 1569.5 1299.5 1572.4 1301.5 1573.9 1303.5 1574.6 1305.5 1574.2 1309.5 1575.1 1311.5 1573.7 1315.5 1575 1319.5 1574.8 1323.5 1575.8 1327 1574.3" fill="none" stroke="#FF8000" stroke-width="7.2" stroke-linejoin="round"/>
<path d="M143.5 1507.4 155.5 1507.7 159.5 1505.9 161.5 1506.1 163.5 1508 165.5 1509 167.5 1507.8 177.5 1506.8 181.5 1507.7 185.5 1506.8 187.5 1507.7 195.5 1506.5 201.5 1507.8 205.5 1507 213.5 1507.1 219.5 1506.2 221.5 1507 225.5 1506.5 229.5 1507.6 233.5 1506.4 235.5 1507.9 237.5 1508 241.5 1506.7 247.5 1506.8 249.5 1506.3 255.5 1507.6 259.5 1505.9 271.5 1507.5 275.5 1506.4 277.5 1507.2 279.5 1506.3 283.5 1506.2 287.5 1507.9 295.5 1507 297.5 1506 299.5 1506.3 301.5 1507.2 305.5 1507.5 307.5 1506.7 309.5 1507.7 315.5 1507.7 317.5 1508.6 319.5 1506.8 321.5 1506.4 323.5 1506.8 325.5 1507.9 331.5 1506.3 333.5 1507.4 337.5 1508.1 341.5 1506.6 343.5 1507 347.5 1506.5 351.5 1508.3 357.5 1506.7 359.5 1507 361.5 1506.6 363.5 1507.2 367.5 1506.7 375.5 1507.2 379.5 1506.2 381.5 1506.4 383.5 1508.1 385.5 1506.9 389.5 1507.5 391.5 1506.1 395.5 1507.5 401.5 1507.1 405.5 1507.6 407.5 1506.3 409.5 1506 411.5 1507.5 413.5 1508.1 415.5 1507.1 419.5 1506.6 423.5 1507.2 427.5 1506 433.5 1506.4 437.5 1503.1 439.5 1503.9 447.5 1504.3 449.5 1506.1 451.5 1506.5 463.5 1505.1 467.5 1504.9 469.5 1505.5 475.5 1503.9 477.5 1504.9 479.5 1504.8 485.5 1502.8 493.5 1503.2 497.5 1502.6 499.5 1503.3 501.5 1502 505.5 1500.8 507.5 1500.7 509.5 1499.4 515.5 1497.9 517.5 1496 521.5 1494.2 523.5 1494.8 525.5 1494.3 529.5 1491.6 531.5 1491.7 535.5 1490.6 541.5 1488.1 547.5 1487 549.5 1487.5 551.5 1486.9 559.5 1475.5 561.5 1474.9 563.5 1477.2 569.5 1488.9 573.5 1493.5 577.5 1495.9 579.5 1495 581.5 1494.9 587.5 1490.1 591.5 1487.9 593.5 1487.4 597.5 1484.1 601.5 1484 605.5 1481.9 607.5 1482.2 609.5 1481.7 611.5 1480.1 613.5 1477.4 617.5 1476.5 619.5 1474.1 621.5 1474.7 623.5 1474.1 625.5 1474.7 629.5 1471.9 633.5 1470.1 637.5 1471.9 639.5 1471.4 641.5 1469 643.5 1468.2 645.5 1469.3 647.5 1468.4 651.5 1469 653.5 1471.2 655.5 1469.8 657.5 1472.1 661.5 1485.5 663.5 1489.7 667.5 1493 669.5 1493.1 671.5 1489.9 673.5 1490.1 677.5 1488.9 679.5 1486 681.5 1484.8 685.5 1484.2 689.5 1485 691.5 1483.7 693.5 1483.4 695.5 1484.1 697.5 1481.9 699.5 1481.7 703.5 1479.5 705.5 1480 711.5 1477.6 713.5 1475.5 719.5 1473.8 721.5 1474 723.5 1472.8 725.5 1473.7 727.5 1476.1 731.5 1485.4 735.5 1488.3 737.5 1487.2 747.5 1467.6 751.5 1467.7 753.5 1469.5 757.5 1470.5 761.5 1467.7 763.5 1464.7 767.5 1454.4 769.5 1452.2 773.5 1452.6 775.5 1454.3 777.5 1454.3 779.5 1455.3 783.5 1459.2 785.5 1459.7 787.5 1459.2 791.5 1459.3 793.5 1457.3 797.5 1455.2 801.5 1455.2 803.5 1452.6 805.5 1452.2 807.5 1447.2 811.5 1443.4 815.5 1437.1 817.5 1435.3 819.5 1431.5 821.5 1429.4 831.5 1410.8 835.5 1401.9 841.5 1397.9 843.5 1398.7 849.5 1386.8 853.5 1371.7 857.5 1362.7 859.5 1361.5 861.5 1362.3 863.5 1361.3 867.5 1354.2 871.5 1353.5 873.5 1354.9 875.5 1358.3 877.5 1359.1 885.5 1367.3 889.5 1377.6 893.5 1399.7 895.5 1406.1 899.5 1414.3 901.5 1414.5 907.5 1425.7 911.5 1429.8 913.5 1430.3 915.5 1434.8 917.5 1437.1 919.5 1438.2 923.5 1438.3 925.5 1440 927.5 1445.1 931.5 1461.1 933.5 1462.9 935.5 1463.5 939.5 1466.7 941.5 1465.1 943.5 1465.6 945.5 1465.4 947.5 1464.3 949.5 1467.8 951.5 1468.6 955.5 1468.5 963.5 1471.8 971.5 1479 973.5 1479.6 977.5 1482.2 979.5 1484.9 985.5 1490.2 987.5 1492.8 991.5 1494.4 997.5 1498.6 1003.5 1500.9 1009.5 1504.4 1011.5 1503.2 1015.5 1504.8 1019.5 1505.6 1023.5 1505.3 1025.5 1505.9 1027.5 1505.5 1033.5 1507.1 1035.5 1506.7 1037.5 1508.3 1041.5 1507.8 1045.5 1508.9 1055.5 1507.8 1059.5 1508.4 1067.5 1507.9 1069.5 1508.7 1073.5 1507.1 1075.5 1508.1 1077.5 1508.2 1079.5 1509 1083.5 1508.8 1087.5 1507.2 1089.5 1507.1 1093.5 1509 1099.5 1507.3 1101.5 1508.5 1105.5 1508.1 1109.5 1509.3 1111.5 1508 1115.5 1508.5 1119.5 1507.4 1121.5 1508.7 1123.5 1507.8 1131.5 1509 1133.5 1507.6 1135.5 1507.9 1139.5 1507.4 1145.5 1507.7 1151.5 1507.2 1155.5 1508.4 1163.5 1507.7 1165.5 1508.5 1169.5 1508.3 1171.5 1508.8 1179.5 1507.7 1183.5 1508.8 1185.5 1507.9 1193.5 1508.3 1197.5 1507.2 1201.5 1507.6 1203.5 1508.3 1207.5 1507.5 1209.5 1507.9 1211.5 1506.9 1219.5 1508.1 1221.5 1507.7 1225.5 1508.2 1229.5 1506.9 1233.5 1508.6 1237.5 1507.9 1241.5 1508.8 1243.5 1507.7 1247.5 1506.8 1251.5 1508.9 1255.5 1506.6 1259.5 1506.6 1261.5 1507.8 1265.5 1507.7 1267.5 1508.8 1269.5 1508 1271.5 1506.2 1273.5 1506 1275.5 1507.8 1277.5 1507.9 1279.5 1505.7 1283.5 1499.6 1285.5 1499.1 1287.5 1497.1 1291.5 1502.4 1293.5 1503.6 1295.5 1501.8 1297.5 1498.4 1299.5 1498.3 1301.5 1502.9 1305.5 1506.5 1307.5 1507 1309.5 1505.2 1311.5 1507.3 1315.5 1508.6 1319.5 1507.7 1323.5 1508.9 1327 1508.3" fill="none" stroke="#80FFFF" stroke-width="7.2" stroke-linejoin="round"/>
<text x="160.5" y="1342.9" font-size="74" text-anchor="start">B</text>
<line x1="268.9" y1="1275.5" x2="268.9" y2="1394.1" stroke="#000" stroke-width="5.5"/>
<text x="279.3" y="1344" font-size="38.5" text-anchor="start">0.002</text>
<line x1="560.3" y1="1441.7" x2="560.3" y2="1826" stroke="#000" stroke-width="5" stroke-dasharray="22.5 19.9"/>
<line x1="644.3" y1="1438.6" x2="644.3" y2="1758" stroke="#000" stroke-width="5" stroke-dasharray="22.5 19.9"/>
<line x1="666.2" y1="1812.5" x2="666.2" y2="2128.8" stroke="#000" stroke-width="5" stroke-dasharray="22.5 19.9"/>
<line x1="770.9" y1="1418.9" x2="770.9" y2="1778" stroke="#000" stroke-width="5" stroke-dasharray="22.5 19.9"/>
<line x1="786.3" y1="1804.9" x2="786.3" y2="2074.9" stroke="#000" stroke-width="5" stroke-dasharray="22.5 19.9"/>
<line x1="868.1" y1="1323.2" x2="868.1" y2="2101.1" stroke="#000" stroke-width="5" stroke-dasharray="22.5 19.9"/>
<line x1="927" y1="1409.3" x2="927" y2="2091" stroke="#000" stroke-width="5" stroke-dasharray="22.5 19.9"/>
<text x="544.9" y="1437.1" font-size="38.5" text-anchor="middle">1647</text>
<text x="651" y="1431.8" font-size="38.5" text-anchor="middle">1575</text>
<text x="671" y="1806.3" font-size="38.5" text-anchor="middle">1568</text>
<text x="771" y="1409" font-size="38.5" text-anchor="middle">1471</text>
<text x="785" y="1793.5" font-size="38.5" text-anchor="middle">1456</text>
<text x="868" y="1311.5" font-size="38.5" text-anchor="middle">1394</text>
<text x="940" y="1390.5" font-size="38.5" text-anchor="middle">1338</text>
<text x="196.8" y="1490.8" font-size="38.5" text-anchor="middle">60</text>
<text x="199.8" y="1558.2" font-size="38.5" text-anchor="middle">50</text>
<text x="202.7" y="1629.7" font-size="38.5" text-anchor="middle">40</text>
<text x="201.2" y="1693.7" font-size="38.5" text-anchor="middle">30</text>
<text x="199.2" y="1762.8" font-size="38.5" text-anchor="middle">20</text>
<text x="199.8" y="1837" font-size="38.5" text-anchor="middle">10</text>
<text x="200.3" y="1913" font-size="38.5" text-anchor="middle">5</text>
<text x="199.8" y="1982.2" font-size="38.5" text-anchor="middle">2</text>
<text x="199.4" y="2046.1" font-size="38.5" text-anchor="middle">1</text>
<text x="153.1" y="2110.5" font-size="29" text-anchor="start">NO+O<tspan dy="8">2</tspan><tspan dy="-8"> 60 min &amp; Ar 60 min</tspan></text>
<rect x="143.5" y="2451" width="1186.0" height="889.5" fill="none" stroke="#000" stroke-width="5.5"/>
<line x1="143.5" y1="3340.5" x2="143.5" y2="3357.5" stroke="#000" stroke-width="5.5"/>
<text x="143.5" y="3409.4" text-anchor="middle" font-size="50.5">2000</text>
<line x1="262.1" y1="3340.5" x2="262.1" y2="3349.0" stroke="#000" stroke-width="5.5"/>
<line x1="380.6" y1="3340.5" x2="380.6" y2="3357.5" stroke="#000" stroke-width="5.5"/>
<text x="380.6" y="3409.4" text-anchor="middle" font-size="50.5">1800</text>
<line x1="499.1" y1="3340.5" x2="499.1" y2="3349.0" stroke="#000" stroke-width="5.5"/>
<line x1="617.7" y1="3340.5" x2="617.7" y2="3357.5" stroke="#000" stroke-width="5.5"/>
<text x="617.7" y="3409.4" text-anchor="middle" font-size="50.5">1600</text>
<line x1="736.2" y1="3340.5" x2="736.2" y2="3349.0" stroke="#000" stroke-width="5.5"/>
<line x1="854.8" y1="3340.5" x2="854.8" y2="3357.5" stroke="#000" stroke-width="5.5"/>
<text x="854.8" y="3409.4" text-anchor="middle" font-size="50.5">1400</text>
<line x1="973.4" y1="3340.5" x2="973.4" y2="3349.0" stroke="#000" stroke-width="5.5"/>
<line x1="1091.9" y1="3340.5" x2="1091.9" y2="3357.5" stroke="#000" stroke-width="5.5"/>
<text x="1091.9" y="3409.4" text-anchor="middle" font-size="50.5">1200</text>
<line x1="1210.5" y1="3340.5" x2="1210.5" y2="3349.0" stroke="#000" stroke-width="5.5"/>
<line x1="1329.0" y1="3340.5" x2="1329.0" y2="3357.5" stroke="#000" stroke-width="5.5"/>
<text x="1329.0" y="3409.4" text-anchor="middle" font-size="50.5">1000</text>
<text x="762" y="3485" font-size="59" text-anchor="middle">Wavenumber (cm<tspan dy="-24.2" font-size="38.4">&#8722;1</tspan><tspan dy="24.2">)</tspan></text>
<text transform="translate(82.1,2895.2) rotate(-90)" font-size="59.5" text-anchor="middle">Intensity (a.u.)</text>
<path d="M143.5 3314 481.5 3314.8 506.5 3313.5 527.5 3311.2 556.5 3310.5 569.5 3309.4 575.5 3308.4 578.5 3307.4 582.5 3305 586.5 3302 591.5 3297.3 607.5 3276.7 613.5 3270.4 616.5 3268 618.5 3267 628.5 3264.2 632.5 3262.1 641.5 3253.5 648.5 3245.2 650.5 3243.6 652.5 3243.1 654.5 3243.9 656.5 3245.9 659.5 3250.5 661.5 3254.4 666.5 3270 672.5 3294 674.5 3298.8 677.5 3304.1 680.5 3307.9 683.5 3309.9 690.5 3312.2 696.5 3313.3 703.5 3313.6 718.5 3313.2 770.5 3310.9 793.5 3309.4 807.5 3307.9 822.5 3305.6 838.5 3302.7 848.5 3300.3 857.5 3297.2 862.5 3294.6 870.5 3288.3 877.5 3280.4 880.5 3278.3 886.5 3277.1 894.5 3278.2 896.5 3277.5 898.5 3274.8 902.5 3266.7 908.5 3256.6 911.5 3253 913.5 3252.2 914.5 3252.4 916.5 3253.8 919.5 3257.8 924.5 3265.9 933.5 3283.9 939.5 3293.6 944.5 3299.8 951.5 3305.3 957.5 3308.6 963.5 3310.4 972.5 3312.1 980.5 3312.9 997.5 3313.5 1101.5 3313.6 1329 3311.5" fill="none" stroke="#000000" stroke-width="7.2" stroke-linejoin="round"/>
<path d="M143.5 3245.4 368.5 3246.8 480.5 3247.1 505.5 3245.9 528.5 3244 575.5 3242.8 578.5 3242.1 581.5 3240.5 586.5 3236.8 589.5 3234.1 605.5 3211.5 609.5 3206.7 614.5 3201.7 619.5 3198.1 628.5 3195.3 632.5 3193.2 641.5 3184.7 648.5 3176.6 650.5 3175.1 652.5 3174.6 654.5 3175.3 656.5 3177.2 659.5 3181.6 661.5 3185.6 665.5 3198.5 672.5 3226.4 674.5 3231.1 677.5 3236.4 680.5 3240.2 683.5 3242.2 689.5 3244 696.5 3245.1 742.5 3245.7 767.5 3244.5 797.5 3242.1 815.5 3240 832.5 3237.3 845.5 3234.2 856.5 3230.5 865.5 3225.9 869.5 3223 876.5 3215.6 882.5 3211.5 885.5 3210.7 894.5 3211.8 896.5 3211 898.5 3208 902.5 3199.1 908.5 3188.1 911.5 3184.1 913.5 3183.2 915.5 3184.1 918.5 3187.9 924.5 3198.3 933.5 3216.2 939.5 3225.8 943.5 3231 950.5 3237.2 956.5 3241.1 961.5 3242.9 970.5 3244.7 979.5 3245.6 994.5 3246.1 1078.5 3246.7 1163.5 3246.5 1329 3245.2" fill="none" stroke="#FF0000" stroke-width="7.2" stroke-linejoin="round"/>
<path d="M143.5 3182.9 481.5 3183.9 506.5 3183.1 527.5 3181.9 559.5 3181.8 573.5 3180.5 577.5 3179.6 580.5 3178.2 585.5 3174.9 589.5 3171.4 593.5 3166.2 608.5 3143.1 615.5 3134.4 617.5 3132.8 619.5 3131.9 628.5 3129.9 632.5 3128.2 635.5 3126.1 641.5 3120.7 649.5 3111.5 651.5 3110.3 652.5 3110.2 654.5 3111.1 656.5 3113.5 661.5 3123 666.5 3139.5 671.5 3160.5 673.5 3166.2 676.5 3171.5 679.5 3175.4 683.5 3178.3 691.5 3181.2 699.5 3182.6 719.5 3183.8 739.5 3184.3 756.5 3184 777.5 3182.8 793.5 3181.5 805.5 3179.9 824.5 3176.2 838.5 3172.8 853.5 3167.7 864.5 3162.6 869.5 3159.1 876.5 3151.7 882.5 3147.2 885.5 3146.8 893.5 3148.3 895.5 3147.4 897.5 3144.4 902.5 3133.8 907.5 3125.9 910.5 3122.1 912.5 3120.8 913.5 3120.6 915.5 3121.5 917.5 3123.8 934.5 3152.7 940.5 3161.8 945.5 3167.9 952.5 3174.3 958.5 3178.3 966.5 3181.1 975.5 3182.9 984.5 3183.7 999.5 3184.3 1095.5 3185 1172.5 3184.5 1329 3182.6" fill="none" stroke="#0000FF" stroke-width="7.2" stroke-linejoin="round"/>
<path d="M143.5 3122.1 481.5 3123.5 490.5 3123.1 506.5 3121.6 527.5 3118.7 560.5 3117.8 574.5 3116.8 577.5 3116 580.5 3114.4 584.5 3111.1 589.5 3105.9 594.5 3098.3 608.5 3073.1 612.5 3067.6 615.5 3064.3 618.5 3062.7 629.5 3061.7 633.5 3060.4 641.5 3054.4 648.5 3046.9 651.5 3045.5 653.5 3046 656.5 3048.9 659.5 3053.6 661.5 3058 664.5 3068.6 671.5 3097.8 673.5 3103.6 676.5 3109.3 680.5 3114.6 683.5 3116.9 690.5 3119.8 697.5 3121.5 746.5 3121.5 781.5 3119.7 798.5 3118.4 813.5 3116.6 828.5 3114 837.5 3111.5 852.5 3105.4 857.5 3102.8 862.5 3099.5 868.5 3094.7 879.5 3082.3 882.5 3079.7 883.5 3079.3 885.5 3079.2 893.5 3081.4 895.5 3080.5 897.5 3077.4 902.5 3066.2 908.5 3054.8 911.5 3051 913.5 3050.5 915.5 3051.5 917.5 3053.8 922.5 3061.9 925.5 3067.7 933.5 3086 939.5 3096.8 944.5 3104 951.5 3110.8 957.5 3115.1 966.5 3118.6 975.5 3120.9 985.5 3121.9 1000.5 3122.4 1329 3121.2" fill="none" stroke="#008000" stroke-width="7.2" stroke-linejoin="round"/>
<path d="M143.5 3063 480.5 3062.3 492.5 3061.6 525.5 3058 559.5 3057.7 575.5 3056.4 579.5 3054.8 583.5 3051.8 587.5 3047.9 590.5 3043.6 596.5 3032.6 605.5 3010 610.5 3000 613.5 2995.6 615.5 2994 617.5 2993.1 631.5 2989.7 637.5 2987.8 640.5 2985.9 647.5 2979.3 650.5 2978.2 653.5 2979 656.5 2981.2 658.5 2983.8 659.5 2986.1 661.5 2993.2 670.5 3032.1 673.5 3041 676.5 3047.8 680.5 3052.8 683.5 3055.4 686.5 3057.4 691.5 3059.2 701.5 3061 710.5 3061.6 743.5 3061.3 757.5 3060.6 773.5 3059.2 797.5 3056.7 815.5 3054 833.5 3050.3 846.5 3046.6 855.5 3042.7 862.5 3038 870.5 3031.4 878.5 3021.8 881.5 3019.5 884.5 3019.1 894.5 3020.2 896.5 3019.3 898.5 3015.7 902.5 3005.2 908.5 2991.8 911.5 2987.4 913.5 2986.7 915.5 2987.7 917.5 2990 922.5 2998.1 925.5 3004.3 930.5 3017.8 933.5 3024.7 940.5 3037.4 945.5 3044 952.5 3050.4 958.5 3054.1 967.5 3056.9 979.5 3059.5 990.5 3061 1000.5 3061.5 1329 3062.1" fill="none" stroke="#FF00FF" stroke-width="7.2" stroke-linejoin="round"/>
<path d="M143.5 2998.8 368.5 2998.4 480.5 2997.8 486.5 2997.4 493.5 2996.3 507.5 2993.6 522.5 2989.6 538.5 2987.3 550.5 2986.6 571.5 2987.7 576.5 2987.5 578.5 2986.5 581.5 2983.7 585.5 2978.6 587.5 2974.8 590.5 2966.7 595.5 2950.7 602.5 2924.9 604.5 2918.7 609.5 2907.4 613.5 2900.2 615.5 2897.8 618.5 2896.2 639.5 2894 641.5 2893.4 646.5 2890.5 648.5 2890.1 651.5 2891 654.5 2893 656.5 2895.8 657.5 2898.3 659.5 2905.6 663.5 2924 668.5 2951.7 670.5 2960.8 674.5 2974.1 677.5 2981.7 680.5 2986.4 684.5 2989.6 690.5 2992.7 696.5 2994.2 710.5 2996 723.5 2997.1 737.5 2997.6 749.5 2997.3 761.5 2996 764.5 2994.6 771.5 2990 774.5 2989 777.5 2989.4 785.5 2993.5 787.5 2993.8 792.5 2993.8 803.5 2992.9 822.5 2990.4 832.5 2988.5 841.5 2986 846.5 2983.8 851.5 2980.8 858.5 2975.9 862.5 2972.5 873.5 2960.5 879.5 2950.7 882.5 2947.2 883.5 2946.6 885.5 2946.5 894.5 2949.8 895.5 2949.6 896.5 2948.8 898.5 2944.6 902.5 2932.6 908.5 2919 911.5 2914.6 913.5 2914 915.5 2915 917.5 2917.3 923.5 2927.2 926.5 2933.9 932.5 2949.8 938.5 2963.4 943.5 2973.1 947.5 2978.9 953.5 2985.8 959.5 2990.7 968.5 2994.6 978.5 2997.3 991.5 2999.6 1000.5 3000.2 1087.5 2998.5 1197.5 2997.1 1247.5 2997.1 1329 2998" fill="none" stroke="#808000" stroke-width="7.2" stroke-linejoin="round"/>
<path d="M143.5 2939.8 373.5 2939.4 481.5 2938.8 486.5 2938.2 491.5 2937 508.5 2931.4 525.5 2923.7 535.5 2918 540.5 2916.3 548.5 2915.3 554.5 2915.3 571.5 2920.8 574.5 2921.3 576.5 2921.1 579.5 2919.4 583.5 2915.3 585.5 2911.9 587.5 2907.2 593.5 2888.7 602.5 2847.8 608.5 2826 610.5 2820.9 614.5 2813.1 617.5 2809.4 619.5 2808.6 622.5 2809.3 628.5 2811.9 630.5 2812.2 633.5 2811.9 640.5 2810.1 644.5 2810 646.5 2810.7 649.5 2812.7 651.5 2814.5 653.5 2817.2 655.5 2822.8 657.5 2831.3 661.5 2851.6 668.5 2893.2 672.5 2911.6 674.5 2918.5 676.5 2922.9 678.5 2926.2 683.5 2932.3 687.5 2934.8 694.5 2936.6 701.5 2937.5 709.5 2937.7 728.5 2937.1 743.5 2936.1 750.5 2934.8 758.5 2932.6 765.5 2929.8 771.5 2926.2 774.5 2925.1 777.5 2925.8 783.5 2930.3 788.5 2932.4 793.5 2933.6 800.5 2933.4 809.5 2932.1 826.5 2928.6 834.5 2926.5 842.5 2923.7 846.5 2921.9 850.5 2919.5 860.5 2911.1 865.5 2905.7 880.5 2887.2 883.5 2884.4 884.5 2883.9 886.5 2883.7 894.5 2885.9 895.5 2885.8 896.5 2885 898.5 2881.2 902.5 2869.8 908.5 2854.7 911.5 2849.6 912.5 2848.9 913.5 2848.8 914.5 2849.3 916.5 2851.4 922.5 2862.5 925.5 2869 932.5 2887.1 940.5 2906.3 943.5 2911.8 948.5 2919 954.5 2925.3 962.5 2930.4 969.5 2933.3 981.5 2936.3 990.5 2937.9 999.5 2938.8 1034.5 2939.8 1070.5 2940.2 1114.5 2940 1188.5 2937.8 1218.5 2937.3 1255.5 2937.5 1329 2938.6" fill="none" stroke="#008080" stroke-width="7.2" stroke-linejoin="round"/>
<path d="M143.5 2873.8 372.5 2873.3 481.5 2872.4 486.5 2871.7 493.5 2869.7 502.5 2866.4 508.5 2863.4 514.5 2859.6 519.5 2855.8 529.5 2844.9 533.5 2841.1 541.5 2836.3 546.5 2834.2 550.5 2833.7 554.5 2834.6 560.5 2837.6 566.5 2842.6 571.5 2845.8 574.5 2847 577.5 2847.1 580.5 2845.1 583.5 2841.3 585.5 2838 587.5 2832.8 593.5 2807.6 599.5 2775.4 602.5 2761.4 606.5 2745.4 609.5 2736.3 612.5 2728.4 615.5 2723.1 617.5 2721.8 622.5 2720.9 625.5 2721.6 632.5 2726.9 634.5 2727.9 637.5 2728.6 646.5 2729.3 648.5 2729.8 650.5 2731.5 653.5 2736.4 655.5 2741.2 657.5 2749 660.5 2767 669.5 2827.6 672.5 2841.7 675.5 2852.5 678.5 2859.2 681.5 2863.2 684.5 2866.3 689.5 2869.6 695.5 2871.3 703.5 2872.4 713.5 2872.4 731.5 2871.3 745.5 2869.7 753.5 2867.7 758.5 2865.9 765.5 2862 771.5 2857.5 774.5 2856.2 775.5 2856.2 777.5 2857 783.5 2862.3 786.5 2864.2 791.5 2866.5 795.5 2867.3 802.5 2866.5 815.5 2863.4 831.5 2860.3 838.5 2858.5 844.5 2856.3 847.5 2854.6 850.5 2851.9 862.5 2838.4 872.5 2826.4 880.5 2814.8 881.5 2814.1 883.5 2813.5 893.5 2815.7 895.5 2815.6 896.5 2814.8 898.5 2811 902.5 2799.6 908.5 2784.5 911.5 2779.4 912.5 2778.7 913.5 2778.6 915.5 2779.6 917.5 2781.9 923.5 2791.8 926.5 2798.4 932.5 2814.4 940.5 2833.4 945.5 2842.6 951.5 2851.4 954.5 2854.9 958.5 2858.5 966.5 2864.1 973.5 2866.9 985.5 2870.2 995.5 2871.9 1006.5 2872.6 1040.5 2873.9 1075.5 2874.4 1115.5 2874.2 1189.5 2871.6 1219.5 2871 1256.5 2871.3 1329 2872.8" fill="none" stroke="#800000" stroke-width="7.2" stroke-linejoin="round"/>
<path d="M143.5 2810.5 376.5 2809.6 482.5 2808.3 489.5 2806.7 498.5 2803.3 505.5 2799.2 512.5 2794.1 518.5 2788.4 525.5 2780.3 534.5 2765.2 537.5 2761.2 543.5 2755.3 545.5 2754 547.5 2753.5 549.5 2753.6 552.5 2754.5 558.5 2757.8 560.5 2760.1 566.5 2769.3 568.5 2771.6 573.5 2776 575.5 2776.9 577.5 2776.9 579.5 2775.8 581.5 2773.8 585.5 2767.8 587.5 2762.7 589.5 2755.4 593.5 2737.1 603.5 2678.2 607.5 2659.7 610.5 2651.1 613.5 2645.1 615.5 2643.1 619.5 2641.9 621.5 2642.2 622.5 2642.8 628.5 2649 630.5 2650.4 643.5 2653.8 647.5 2655.4 649.5 2657.2 651.5 2660.4 653.5 2665 655.5 2671.1 657.5 2680.7 668.5 2759.4 670.5 2770.1 673.5 2781.7 675.5 2787.8 677.5 2792.3 682.5 2799.3 685.5 2802 687.5 2803.2 696.5 2806.1 702.5 2807.1 710.5 2807.3 736.5 2806.7 745.5 2805.8 752.5 2804.1 757.5 2802.4 765.5 2798 771.5 2793.5 774.5 2792.3 775.5 2792.3 777.5 2793.3 782.5 2798.7 785.5 2800.9 792.5 2803.1 797.5 2803.3 802.5 2802.3 815.5 2798.2 832.5 2794.6 839.5 2792.4 842.5 2790.8 844.5 2789.2 860.5 2773.3 866.5 2766.9 875.5 2755.7 882.5 2749 884.5 2747.6 886.5 2747 888.5 2747.2 894.5 2749.2 895.5 2749.1 896.5 2748.4 898.5 2745 909.5 2716.3 911.5 2713 912.5 2712.3 913.5 2712.1 914.5 2712.5 916.5 2714.5 921.5 2722.5 924.5 2729.3 938.5 2766.3 942.5 2774.1 948.5 2782.8 957.5 2792.9 964.5 2798.8 969.5 2801.6 974.5 2803.8 987.5 2807.6 995.5 2809.2 1002.5 2809.7 1037.5 2810.8 1074.5 2811.4 1112.5 2811.1 1178.5 2808.6 1205.5 2808 1247.5 2808.3 1329 2809.7" fill="none" stroke="#FF8000" stroke-width="7.2" stroke-linejoin="round"/>
<path d="M143.5 2748.7 367.5 2748.1 478.5 2747.1 485.5 2746.4 495.5 2743.1 501.5 2739.9 509.5 2733.8 515.5 2728.2 521.5 2721.1 526.5 2712.9 534.5 2692.4 540.5 2679 543.5 2674.8 546.5 2672.2 548.5 2671.1 550.5 2670.7 553.5 2671.7 556.5 2674.1 559.5 2677.4 562.5 2682.6 567.5 2695 571.5 2701.9 574.5 2706.1 576.5 2707.7 578.5 2707.8 579.5 2707.3 581.5 2705 585.5 2697.6 587.5 2692.1 592.5 2671.8 595.5 2655.9 605.5 2594.3 608.5 2580.8 611.5 2571.1 613.5 2566.5 615.5 2564.1 619.5 2562.9 621.5 2563.2 623.5 2564.5 628.5 2569.8 631.5 2572.2 647.5 2580 649.5 2582.1 652.5 2587.7 655.5 2595.7 658.5 2607.9 663.5 2636.2 670.5 2682.3 674.5 2702.2 677.5 2713.7 682.5 2726.9 686.5 2734 688.5 2736 693.5 2739.4 697.5 2741.3 701.5 2742.7 705.5 2743.3 721.5 2743.8 739.5 2744 743.5 2743.6 747.5 2742.4 756.5 2738.8 763.5 2735.4 766.5 2733.2 772.5 2726.9 774.5 2725.9 775.5 2725.8 777.5 2727 783.5 2734.2 785.5 2735.8 791.5 2738.7 795.5 2739.4 803.5 2738.4 823.5 2733.7 832.5 2731.1 839.5 2728.4 843.5 2726.2 847.5 2723 854.5 2716.8 861.5 2709.8 874.5 2694.9 878.5 2689.5 881.5 2684.5 883.5 2682.2 884.5 2681.9 886.5 2682.2 892.5 2684.8 894.5 2685.3 896.5 2684.6 897.5 2683.4 899.5 2679.2 909.5 2653.7 911.5 2650.3 912.5 2649.5 913.5 2649.3 915.5 2650.2 917.5 2651.9 920.5 2655.5 922.5 2658.9 939.5 2703.2 945.5 2715.1 951.5 2724.2 958.5 2732.3 962.5 2736 965.5 2738.1 970.5 2740.7 975.5 2742.8 988.5 2746.4 997.5 2748 1010.5 2748.6 1045.5 2749.6 1083.5 2750 1115.5 2749.5 1177.5 2746.4 1203.5 2745.6 1245.5 2745.8 1329 2747.2" fill="none" stroke="#80FFFF" stroke-width="7.2" stroke-linejoin="round"/>
<text x="155" y="2531" font-size="81" text-anchor="start">C</text>
<line x1="293.1" y1="2473.6" x2="293.1" y2="2562.9" stroke="#000" stroke-width="5.5"/>
<text x="304" y="2527.2" font-size="38.5" text-anchor="start">0.005</text>
<line x1="549.7" y1="2631.7" x2="549.7" y2="3031.5" stroke="#000" stroke-width="5" stroke-dasharray="22.5 20.1"/>
<line x1="619.8" y1="2535" x2="619.8" y2="3324.8" stroke="#000" stroke-width="5" stroke-dasharray="22.5 20.1"/>
<line x1="647.2" y1="2556.2" x2="651" y2="3302.3" stroke="#000" stroke-width="5" stroke-dasharray="22.5 20.1"/>
<line x1="775.1" y1="2705.6" x2="775.1" y2="3024" stroke="#000" stroke-width="5" stroke-dasharray="22.5 20.1"/>
<line x1="883.8" y1="2647.9" x2="883.8" y2="3300.9" stroke="#000" stroke-width="5" stroke-dasharray="22.5 20.1"/>
<line x1="913.4" y1="2624.1" x2="913.4" y2="3284.6" stroke="#000" stroke-width="5" stroke-dasharray="22.5 20.1"/>
<text x="545.9" y="2573.3" font-size="38.5" text-anchor="middle">1655</text>
<text x="610" y="2495" font-size="38.5" text-anchor="middle">1599</text>
<text x="680.6" y="2537.7" font-size="38.5" text-anchor="middle">1571</text>
<text x="764.5" y="2665.4" font-size="38.5" text-anchor="middle">1468</text>
<text x="855" y="2629.1" font-size="38.5" text-anchor="middle">1377</text>
<text x="908" y="2583.9" font-size="38.5" text-anchor="middle">1352</text>
<text x="195" y="2734.1" font-size="38.5" text-anchor="middle">60</text>
<text x="195" y="2792.1" font-size="38.5" text-anchor="middle">50</text>
<text x="195" y="2855.7" font-size="38.5" text-anchor="middle">40</text>
<text x="195" y="2914.7" font-size="38.5" text-anchor="middle">30</text>
<text x="195" y="2979" font-size="38.5" text-anchor="middle">20</text>
<text x="195" y="3047.4" font-size="38.5" text-anchor="middle">10</text>
<text x="195" y="3102.3" font-size="38.5" text-anchor="middle">5</text>
<text x="195" y="3169.7" font-size="38.5" text-anchor="middle">2</text>
<text x="195" y="3223.9" font-size="38.5" text-anchor="middle">1</text>
<text x="160.1" y="3288" font-size="29" text-anchor="start">NO+O<tspan dy="8">2</tspan><tspan dy="-8"> 60 min &amp; Ar 60 min</tspan></text>
</svg></body></html>
